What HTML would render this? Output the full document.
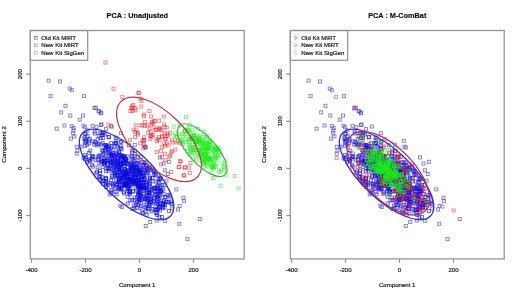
<!DOCTYPE html><html><head><meta charset="utf-8"><style>html,body{margin:0;padding:0;background:#fff;overflow:hidden}svg{display:block;filter:blur(0.3px)}</style></head><body><svg xmlns="http://www.w3.org/2000/svg" width="520" height="297" viewBox="0 0 520 297"><style>
.ax{stroke:#939393;stroke-width:1.25;fill:none}
text{font-family:"Liberation Sans",sans-serif;fill:#1a1a1a;stroke:#1a1a1a;stroke-width:0.2}
.tk{font-size:6.1px}
.lb{font-size:6.1px}
.lg{font-size:6.1px}
.tt{font-size:7.3px;font-weight:bold;fill:#111}
.bo rect{fill:none;stroke:rgba(40,40,170,0.55);stroke-width:1.0}
.b rect{fill:none;stroke:rgba(10,10,220,0.58);stroke-width:1.0}
.r rect{fill:none;stroke:rgba(225,10,25,0.48);stroke-width:1.0}
.g rect{fill:none;stroke:rgba(30,235,30,0.5);stroke-width:1.0}
.g2 rect{fill:none;stroke:rgba(30,235,30,0.6);stroke-width:1.0}
</style><rect width="520" height="297" fill="#fff"/><g class="bo"><rect x="47.1" y="79.1" width="3.0" height="3.0"/><rect x="58.5" y="80.0" width="3.0" height="3.0"/><rect x="68.3" y="87.0" width="3.0" height="3.0"/><rect x="70.3" y="88.7" width="3.0" height="3.0"/><rect x="49.1" y="94.6" width="3.0" height="3.0"/><rect x="82.5" y="94.6" width="3.0" height="3.0"/><rect x="63.9" y="104.3" width="3.0" height="3.0"/><rect x="59.7" y="110.9" width="3.0" height="3.0"/><rect x="68.8" y="114.1" width="3.0" height="3.0"/><rect x="81.5" y="114.1" width="3.0" height="3.0"/><rect x="78.2" y="118.2" width="3.0" height="3.0"/><rect x="93.0" y="106.4" width="3.0" height="3.0"/><rect x="97.1" y="109.9" width="3.0" height="3.0"/><rect x="99.4" y="111.8" width="3.0" height="3.0"/><rect x="63.0" y="124.0" width="3.0" height="3.0"/><rect x="55.1" y="127.2" width="3.0" height="3.0"/><rect x="70.3" y="124.6" width="3.0" height="3.0"/><rect x="72.1" y="126.5" width="3.0" height="3.0"/><rect x="71.4" y="131.8" width="3.0" height="3.0"/><rect x="72.9" y="134.9" width="3.0" height="3.0"/><rect x="69.4" y="137.1" width="3.0" height="3.0"/><rect x="82.0" y="124.3" width="3.0" height="3.0"/><rect x="83.5" y="125.8" width="3.0" height="3.0"/><rect x="91.1" y="124.3" width="3.0" height="3.0"/><rect x="94.9" y="125.5" width="3.0" height="3.0"/><rect x="99.4" y="123.5" width="3.0" height="3.0"/><rect x="99.7" y="111.2" width="3.0" height="3.0"/><rect x="100.0" y="122.9" width="3.0" height="3.0"/><rect x="104.5" y="127.4" width="3.0" height="3.0"/><rect x="75.2" y="145.3" width="3.0" height="3.0"/><rect x="75.9" y="149.1" width="3.0" height="3.0"/><rect x="75.2" y="152.1" width="3.0" height="3.0"/><rect x="108.2" y="192.9" width="3.0" height="3.0"/><rect x="118.8" y="204.3" width="3.0" height="3.0"/><rect x="120.3" y="205.5" width="3.0" height="3.0"/><rect x="144.3" y="224.5" width="3.0" height="3.0"/><rect x="148.7" y="220.5" width="3.0" height="3.0"/><rect x="155.3" y="219.0" width="3.0" height="3.0"/><rect x="163.6" y="219.4" width="3.0" height="3.0"/><rect x="177.8" y="222.3" width="3.0" height="3.0"/><rect x="198.2" y="217.5" width="3.0" height="3.0"/><rect x="186.0" y="237.6" width="3.0" height="3.0"/><rect x="174.8" y="187.9" width="3.0" height="3.0"/><rect x="181.9" y="196.2" width="3.0" height="3.0"/><rect x="182.4" y="199.7" width="3.0" height="3.0"/><rect x="178.1" y="204.5" width="3.0" height="3.0"/><rect x="176.5" y="208.0" width="3.0" height="3.0"/><rect x="133.3" y="143.3" width="3.0" height="3.0"/><rect x="85.9" y="128.9" width="3.0" height="3.0"/><rect x="72.0" y="129.0" width="3.0" height="3.0"/><rect x="94.3" y="106.2" width="3.0" height="3.0"/><rect x="97.7" y="109.6" width="3.0" height="3.0"/><rect x="110.2" y="125.0" width="3.0" height="3.0"/><rect x="119.4" y="131.7" width="3.0" height="3.0"/><rect x="142.2" y="139.3" width="3.0" height="3.0"/><rect x="143.0" y="145.2" width="3.0" height="3.0"/><rect x="158.5" y="155.9" width="3.0" height="3.0"/><rect x="162.0" y="162.0" width="3.0" height="3.0"/><rect x="167.4" y="160.3" width="3.0" height="3.0"/><rect x="163.4" y="168.8" width="3.0" height="3.0"/><rect x="166.2" y="172.5" width="3.0" height="3.0"/><rect x="165.0" y="179.2" width="3.0" height="3.0"/><rect x="144.3" y="146.0" width="3.0" height="3.0"/></g><g class="b"><rect x="126.4" y="178.7" width="3.0" height="3.0"/><rect x="139.6" y="174.6" width="3.0" height="3.0"/><rect x="143.5" y="176.9" width="3.0" height="3.0"/><rect x="118.2" y="185.3" width="3.0" height="3.0"/><rect x="141.6" y="180.3" width="3.0" height="3.0"/><rect x="117.2" y="170.8" width="3.0" height="3.0"/><rect x="133.0" y="167.9" width="3.0" height="3.0"/><rect x="124.2" y="182.1" width="3.0" height="3.0"/><rect x="155.8" y="195.9" width="3.0" height="3.0"/><rect x="163.2" y="206.0" width="3.0" height="3.0"/><rect x="149.4" y="200.0" width="3.0" height="3.0"/><rect x="127.0" y="172.5" width="3.0" height="3.0"/><rect x="128.6" y="178.2" width="3.0" height="3.0"/><rect x="159.3" y="198.9" width="3.0" height="3.0"/><rect x="151.7" y="187.1" width="3.0" height="3.0"/><rect x="115.0" y="152.6" width="3.0" height="3.0"/><rect x="123.0" y="183.5" width="3.0" height="3.0"/><rect x="139.8" y="185.6" width="3.0" height="3.0"/><rect x="126.1" y="175.1" width="3.0" height="3.0"/><rect x="150.0" y="197.8" width="3.0" height="3.0"/><rect x="114.8" y="142.1" width="3.0" height="3.0"/><rect x="112.2" y="162.8" width="3.0" height="3.0"/><rect x="126.2" y="202.0" width="3.0" height="3.0"/><rect x="123.1" y="154.8" width="3.0" height="3.0"/><rect x="123.2" y="179.5" width="3.0" height="3.0"/><rect x="127.2" y="184.7" width="3.0" height="3.0"/><rect x="125.1" y="182.5" width="3.0" height="3.0"/><rect x="107.3" y="147.2" width="3.0" height="3.0"/><rect x="128.0" y="169.7" width="3.0" height="3.0"/><rect x="134.4" y="165.6" width="3.0" height="3.0"/><rect x="140.3" y="184.9" width="3.0" height="3.0"/><rect x="104.4" y="169.7" width="3.0" height="3.0"/><rect x="157.8" y="193.1" width="3.0" height="3.0"/><rect x="130.6" y="150.9" width="3.0" height="3.0"/><rect x="137.5" y="183.6" width="3.0" height="3.0"/><rect x="101.2" y="160.3" width="3.0" height="3.0"/><rect x="136.9" y="179.3" width="3.0" height="3.0"/><rect x="122.5" y="191.9" width="3.0" height="3.0"/><rect x="138.3" y="181.5" width="3.0" height="3.0"/><rect x="123.0" y="169.6" width="3.0" height="3.0"/><rect x="139.7" y="171.7" width="3.0" height="3.0"/><rect x="131.8" y="173.4" width="3.0" height="3.0"/><rect x="103.0" y="161.5" width="3.0" height="3.0"/><rect x="124.3" y="181.8" width="3.0" height="3.0"/><rect x="127.3" y="190.0" width="3.0" height="3.0"/><rect x="124.6" y="180.9" width="3.0" height="3.0"/><rect x="149.3" y="200.9" width="3.0" height="3.0"/><rect x="140.2" y="175.1" width="3.0" height="3.0"/><rect x="110.0" y="190.2" width="3.0" height="3.0"/><rect x="147.8" y="186.0" width="3.0" height="3.0"/><rect x="121.4" y="176.6" width="3.0" height="3.0"/><rect x="133.1" y="178.0" width="3.0" height="3.0"/><rect x="112.3" y="168.4" width="3.0" height="3.0"/><rect x="147.6" y="193.4" width="3.0" height="3.0"/><rect x="135.1" y="168.2" width="3.0" height="3.0"/><rect x="129.8" y="165.8" width="3.0" height="3.0"/><rect x="109.7" y="161.4" width="3.0" height="3.0"/><rect x="131.0" y="170.7" width="3.0" height="3.0"/><rect x="144.4" y="163.9" width="3.0" height="3.0"/><rect x="146.3" y="198.3" width="3.0" height="3.0"/><rect x="154.7" y="211.6" width="3.0" height="3.0"/><rect x="138.3" y="196.5" width="3.0" height="3.0"/><rect x="136.8" y="163.0" width="3.0" height="3.0"/><rect x="96.1" y="165.9" width="3.0" height="3.0"/><rect x="131.6" y="175.6" width="3.0" height="3.0"/><rect x="138.1" y="172.1" width="3.0" height="3.0"/><rect x="112.5" y="153.9" width="3.0" height="3.0"/><rect x="134.9" y="171.6" width="3.0" height="3.0"/><rect x="148.6" y="177.7" width="3.0" height="3.0"/><rect x="107.0" y="154.1" width="3.0" height="3.0"/><rect x="111.1" y="160.2" width="3.0" height="3.0"/><rect x="143.2" y="185.9" width="3.0" height="3.0"/><rect x="138.5" y="186.0" width="3.0" height="3.0"/><rect x="137.3" y="180.7" width="3.0" height="3.0"/><rect x="158.8" y="193.9" width="3.0" height="3.0"/><rect x="103.4" y="143.6" width="3.0" height="3.0"/><rect x="145.1" y="196.8" width="3.0" height="3.0"/><rect x="113.3" y="142.0" width="3.0" height="3.0"/><rect x="136.6" y="175.4" width="3.0" height="3.0"/><rect x="155.1" y="211.7" width="3.0" height="3.0"/><rect x="128.4" y="177.4" width="3.0" height="3.0"/><rect x="138.9" y="192.6" width="3.0" height="3.0"/><rect x="139.2" y="184.6" width="3.0" height="3.0"/><rect x="156.8" y="186.4" width="3.0" height="3.0"/><rect x="108.0" y="150.2" width="3.0" height="3.0"/><rect x="123.5" y="171.3" width="3.0" height="3.0"/><rect x="139.9" y="180.2" width="3.0" height="3.0"/><rect x="119.3" y="163.6" width="3.0" height="3.0"/><rect x="131.1" y="179.2" width="3.0" height="3.0"/><rect x="102.7" y="161.6" width="3.0" height="3.0"/><rect x="125.5" y="165.9" width="3.0" height="3.0"/><rect x="146.8" y="206.9" width="3.0" height="3.0"/><rect x="112.1" y="159.1" width="3.0" height="3.0"/><rect x="113.4" y="173.0" width="3.0" height="3.0"/><rect x="107.2" y="169.2" width="3.0" height="3.0"/><rect x="126.2" y="195.3" width="3.0" height="3.0"/><rect x="144.9" y="203.9" width="3.0" height="3.0"/><rect x="113.6" y="174.5" width="3.0" height="3.0"/><rect x="84.5" y="155.6" width="3.0" height="3.0"/><rect x="160.7" y="183.5" width="3.0" height="3.0"/><rect x="120.8" y="155.2" width="3.0" height="3.0"/><rect x="122.9" y="182.9" width="3.0" height="3.0"/><rect x="123.5" y="172.4" width="3.0" height="3.0"/><rect x="132.7" y="180.9" width="3.0" height="3.0"/><rect x="154.4" y="180.0" width="3.0" height="3.0"/><rect x="138.2" y="172.2" width="3.0" height="3.0"/><rect x="154.5" y="208.0" width="3.0" height="3.0"/><rect x="126.8" y="180.5" width="3.0" height="3.0"/><rect x="150.8" y="188.4" width="3.0" height="3.0"/><rect x="152.6" y="186.9" width="3.0" height="3.0"/><rect x="130.4" y="167.5" width="3.0" height="3.0"/><rect x="119.8" y="173.0" width="3.0" height="3.0"/><rect x="101.7" y="132.0" width="3.0" height="3.0"/><rect x="113.2" y="160.8" width="3.0" height="3.0"/><rect x="138.8" y="166.1" width="3.0" height="3.0"/><rect x="131.6" y="189.7" width="3.0" height="3.0"/><rect x="129.4" y="178.5" width="3.0" height="3.0"/><rect x="125.8" y="189.9" width="3.0" height="3.0"/><rect x="144.1" y="160.7" width="3.0" height="3.0"/><rect x="154.5" y="173.8" width="3.0" height="3.0"/><rect x="104.2" y="154.3" width="3.0" height="3.0"/><rect x="156.1" y="189.5" width="3.0" height="3.0"/><rect x="107.1" y="158.5" width="3.0" height="3.0"/><rect x="128.0" y="175.3" width="3.0" height="3.0"/><rect x="122.2" y="181.8" width="3.0" height="3.0"/><rect x="117.1" y="168.7" width="3.0" height="3.0"/><rect x="143.7" y="197.9" width="3.0" height="3.0"/><rect x="133.2" y="196.1" width="3.0" height="3.0"/><rect x="152.3" y="197.0" width="3.0" height="3.0"/><rect x="137.8" y="166.9" width="3.0" height="3.0"/><rect x="87.5" y="158.0" width="3.0" height="3.0"/><rect x="131.5" y="190.0" width="3.0" height="3.0"/><rect x="124.4" y="171.8" width="3.0" height="3.0"/><rect x="134.4" y="167.2" width="3.0" height="3.0"/><rect x="134.6" y="179.8" width="3.0" height="3.0"/><rect x="104.8" y="158.8" width="3.0" height="3.0"/><rect x="118.0" y="187.8" width="3.0" height="3.0"/><rect x="141.2" y="183.1" width="3.0" height="3.0"/><rect x="104.8" y="166.9" width="3.0" height="3.0"/><rect x="115.7" y="166.0" width="3.0" height="3.0"/><rect x="126.4" y="171.0" width="3.0" height="3.0"/><rect x="131.8" y="180.3" width="3.0" height="3.0"/><rect x="97.5" y="155.0" width="3.0" height="3.0"/><rect x="133.6" y="173.2" width="3.0" height="3.0"/><rect x="128.8" y="199.0" width="3.0" height="3.0"/><rect x="118.9" y="168.4" width="3.0" height="3.0"/><rect x="142.4" y="174.2" width="3.0" height="3.0"/><rect x="123.7" y="184.0" width="3.0" height="3.0"/><rect x="137.1" y="181.5" width="3.0" height="3.0"/><rect x="131.7" y="181.0" width="3.0" height="3.0"/><rect x="158.8" y="201.8" width="3.0" height="3.0"/><rect x="137.7" y="197.5" width="3.0" height="3.0"/><rect x="138.4" y="193.8" width="3.0" height="3.0"/><rect x="103.3" y="148.4" width="3.0" height="3.0"/><rect x="138.0" y="188.1" width="3.0" height="3.0"/><rect x="135.4" y="169.3" width="3.0" height="3.0"/><rect x="106.3" y="183.5" width="3.0" height="3.0"/><rect x="134.5" y="179.4" width="3.0" height="3.0"/><rect x="145.1" y="196.5" width="3.0" height="3.0"/><rect x="158.6" y="189.5" width="3.0" height="3.0"/><rect x="111.8" y="148.2" width="3.0" height="3.0"/><rect x="98.5" y="169.4" width="3.0" height="3.0"/><rect x="120.0" y="176.2" width="3.0" height="3.0"/><rect x="94.8" y="142.0" width="3.0" height="3.0"/><rect x="148.5" y="176.6" width="3.0" height="3.0"/><rect x="117.5" y="186.6" width="3.0" height="3.0"/><rect x="117.8" y="153.3" width="3.0" height="3.0"/><rect x="147.4" y="187.3" width="3.0" height="3.0"/><rect x="124.7" y="170.0" width="3.0" height="3.0"/><rect x="122.6" y="175.0" width="3.0" height="3.0"/><rect x="134.1" y="181.3" width="3.0" height="3.0"/><rect x="125.4" y="172.4" width="3.0" height="3.0"/><rect x="106.5" y="181.7" width="3.0" height="3.0"/><rect x="117.5" y="166.9" width="3.0" height="3.0"/><rect x="156.1" y="207.9" width="3.0" height="3.0"/><rect x="108.3" y="167.2" width="3.0" height="3.0"/><rect x="143.0" y="166.5" width="3.0" height="3.0"/><rect x="139.9" y="177.8" width="3.0" height="3.0"/><rect x="101.5" y="182.3" width="3.0" height="3.0"/><rect x="130.0" y="167.1" width="3.0" height="3.0"/><rect x="149.9" y="195.9" width="3.0" height="3.0"/><rect x="139.6" y="171.1" width="3.0" height="3.0"/><rect x="134.4" y="166.1" width="3.0" height="3.0"/><rect x="101.2" y="165.5" width="3.0" height="3.0"/><rect x="112.3" y="154.7" width="3.0" height="3.0"/><rect x="120.2" y="166.8" width="3.0" height="3.0"/><rect x="137.8" y="180.6" width="3.0" height="3.0"/><rect x="161.8" y="187.9" width="3.0" height="3.0"/><rect x="115.5" y="161.6" width="3.0" height="3.0"/><rect x="117.7" y="180.2" width="3.0" height="3.0"/><rect x="165.1" y="200.1" width="3.0" height="3.0"/><rect x="122.6" y="176.4" width="3.0" height="3.0"/><rect x="128.2" y="190.4" width="3.0" height="3.0"/><rect x="133.1" y="164.0" width="3.0" height="3.0"/><rect x="139.7" y="198.2" width="3.0" height="3.0"/><rect x="133.3" y="154.7" width="3.0" height="3.0"/><rect x="100.2" y="158.1" width="3.0" height="3.0"/><rect x="107.0" y="150.9" width="3.0" height="3.0"/><rect x="141.6" y="173.3" width="3.0" height="3.0"/><rect x="84.1" y="132.2" width="3.0" height="3.0"/><rect x="104.4" y="144.9" width="3.0" height="3.0"/><rect x="137.1" y="161.5" width="3.0" height="3.0"/><rect x="128.6" y="190.2" width="3.0" height="3.0"/><rect x="143.6" y="205.6" width="3.0" height="3.0"/><rect x="129.6" y="163.1" width="3.0" height="3.0"/><rect x="140.7" y="181.6" width="3.0" height="3.0"/><rect x="133.1" y="173.4" width="3.0" height="3.0"/><rect x="145.5" y="188.3" width="3.0" height="3.0"/><rect x="155.9" y="184.4" width="3.0" height="3.0"/><rect x="123.3" y="183.8" width="3.0" height="3.0"/><rect x="156.0" y="202.4" width="3.0" height="3.0"/><rect x="146.9" y="180.3" width="3.0" height="3.0"/><rect x="116.7" y="158.2" width="3.0" height="3.0"/><rect x="107.0" y="145.4" width="3.0" height="3.0"/><rect x="123.1" y="168.3" width="3.0" height="3.0"/><rect x="138.0" y="193.6" width="3.0" height="3.0"/><rect x="127.1" y="183.5" width="3.0" height="3.0"/><rect x="136.8" y="169.3" width="3.0" height="3.0"/><rect x="130.0" y="178.6" width="3.0" height="3.0"/><rect x="117.5" y="153.6" width="3.0" height="3.0"/><rect x="141.1" y="164.5" width="3.0" height="3.0"/><rect x="124.3" y="157.5" width="3.0" height="3.0"/><rect x="161.4" y="206.7" width="3.0" height="3.0"/><rect x="119.2" y="146.6" width="3.0" height="3.0"/><rect x="153.2" y="189.5" width="3.0" height="3.0"/><rect x="146.2" y="198.4" width="3.0" height="3.0"/><rect x="148.0" y="184.9" width="3.0" height="3.0"/><rect x="123.2" y="161.1" width="3.0" height="3.0"/><rect x="127.4" y="162.1" width="3.0" height="3.0"/><rect x="163.0" y="183.6" width="3.0" height="3.0"/><rect x="97.3" y="142.6" width="3.0" height="3.0"/><rect x="124.3" y="172.1" width="3.0" height="3.0"/><rect x="125.3" y="174.2" width="3.0" height="3.0"/><rect x="101.4" y="136.6" width="3.0" height="3.0"/><rect x="163.5" y="195.5" width="3.0" height="3.0"/><rect x="147.3" y="204.6" width="3.0" height="3.0"/><rect x="120.4" y="155.6" width="3.0" height="3.0"/><rect x="155.9" y="197.5" width="3.0" height="3.0"/><rect x="126.5" y="159.7" width="3.0" height="3.0"/><rect x="117.2" y="151.0" width="3.0" height="3.0"/><rect x="144.0" y="170.3" width="3.0" height="3.0"/><rect x="136.5" y="203.2" width="3.0" height="3.0"/><rect x="116.5" y="159.7" width="3.0" height="3.0"/><rect x="157.2" y="177.4" width="3.0" height="3.0"/><rect x="135.8" y="182.9" width="3.0" height="3.0"/><rect x="130.7" y="177.2" width="3.0" height="3.0"/><rect x="149.1" y="195.0" width="3.0" height="3.0"/><rect x="120.3" y="186.6" width="3.0" height="3.0"/><rect x="95.9" y="143.9" width="3.0" height="3.0"/><rect x="142.7" y="189.0" width="3.0" height="3.0"/><rect x="144.5" y="181.4" width="3.0" height="3.0"/><rect x="136.8" y="169.8" width="3.0" height="3.0"/><rect x="118.3" y="165.5" width="3.0" height="3.0"/><rect x="125.3" y="170.9" width="3.0" height="3.0"/><rect x="148.1" y="181.9" width="3.0" height="3.0"/><rect x="136.6" y="176.5" width="3.0" height="3.0"/><rect x="124.3" y="172.5" width="3.0" height="3.0"/><rect x="152.5" y="200.1" width="3.0" height="3.0"/><rect x="156.9" y="194.7" width="3.0" height="3.0"/><rect x="148.1" y="166.3" width="3.0" height="3.0"/><rect x="125.8" y="176.1" width="3.0" height="3.0"/><rect x="134.3" y="176.1" width="3.0" height="3.0"/><rect x="142.0" y="175.7" width="3.0" height="3.0"/><rect x="137.2" y="177.0" width="3.0" height="3.0"/><rect x="135.2" y="166.1" width="3.0" height="3.0"/><rect x="123.3" y="173.6" width="3.0" height="3.0"/><rect x="134.1" y="175.7" width="3.0" height="3.0"/><rect x="130.1" y="154.9" width="3.0" height="3.0"/><rect x="118.5" y="170.5" width="3.0" height="3.0"/><rect x="120.8" y="174.5" width="3.0" height="3.0"/><rect x="142.0" y="185.7" width="3.0" height="3.0"/><rect x="114.1" y="168.9" width="3.0" height="3.0"/><rect x="135.2" y="161.9" width="3.0" height="3.0"/><rect x="110.8" y="176.0" width="3.0" height="3.0"/><rect x="108.7" y="161.1" width="3.0" height="3.0"/><rect x="150.0" y="209.8" width="3.0" height="3.0"/><rect x="132.0" y="159.2" width="3.0" height="3.0"/><rect x="156.2" y="193.8" width="3.0" height="3.0"/><rect x="108.2" y="152.2" width="3.0" height="3.0"/><rect x="111.6" y="184.7" width="3.0" height="3.0"/><rect x="100.6" y="148.7" width="3.0" height="3.0"/><rect x="141.5" y="171.4" width="3.0" height="3.0"/><rect x="138.0" y="191.4" width="3.0" height="3.0"/><rect x="120.6" y="170.6" width="3.0" height="3.0"/><rect x="116.0" y="154.0" width="3.0" height="3.0"/><rect x="124.5" y="182.8" width="3.0" height="3.0"/><rect x="110.6" y="174.5" width="3.0" height="3.0"/><rect x="123.5" y="167.5" width="3.0" height="3.0"/><rect x="128.9" y="163.0" width="3.0" height="3.0"/><rect x="154.0" y="208.5" width="3.0" height="3.0"/><rect x="127.4" y="179.7" width="3.0" height="3.0"/><rect x="161.5" y="202.6" width="3.0" height="3.0"/><rect x="145.2" y="180.3" width="3.0" height="3.0"/><rect x="109.7" y="164.1" width="3.0" height="3.0"/><rect x="139.4" y="186.6" width="3.0" height="3.0"/><rect x="127.0" y="182.6" width="3.0" height="3.0"/><rect x="104.5" y="177.4" width="3.0" height="3.0"/><rect x="105.9" y="159.6" width="3.0" height="3.0"/><rect x="117.6" y="177.2" width="3.0" height="3.0"/><rect x="138.5" y="185.3" width="3.0" height="3.0"/><rect x="98.7" y="175.5" width="3.0" height="3.0"/><rect x="131.7" y="178.8" width="3.0" height="3.0"/><rect x="115.7" y="183.0" width="3.0" height="3.0"/><rect x="118.9" y="187.8" width="3.0" height="3.0"/><rect x="147.2" y="191.5" width="3.0" height="3.0"/><rect x="126.6" y="185.6" width="3.0" height="3.0"/><rect x="120.1" y="147.7" width="3.0" height="3.0"/><rect x="142.6" y="194.5" width="3.0" height="3.0"/><rect x="150.9" y="176.5" width="3.0" height="3.0"/><rect x="106.4" y="162.5" width="3.0" height="3.0"/><rect x="122.9" y="164.7" width="3.0" height="3.0"/><rect x="111.7" y="157.3" width="3.0" height="3.0"/><rect x="115.1" y="151.2" width="3.0" height="3.0"/><rect x="142.4" y="192.5" width="3.0" height="3.0"/><rect x="136.5" y="193.3" width="3.0" height="3.0"/><rect x="130.2" y="165.3" width="3.0" height="3.0"/><rect x="129.6" y="172.7" width="3.0" height="3.0"/><rect x="116.4" y="156.4" width="3.0" height="3.0"/><rect x="128.0" y="192.8" width="3.0" height="3.0"/><rect x="125.9" y="177.0" width="3.0" height="3.0"/><rect x="101.8" y="149.6" width="3.0" height="3.0"/><rect x="145.2" y="193.9" width="3.0" height="3.0"/><rect x="126.1" y="162.8" width="3.0" height="3.0"/><rect x="168.0" y="193.9" width="3.0" height="3.0"/><rect x="121.8" y="159.7" width="3.0" height="3.0"/><rect x="129.6" y="180.5" width="3.0" height="3.0"/><rect x="119.7" y="163.6" width="3.0" height="3.0"/><rect x="125.7" y="161.5" width="3.0" height="3.0"/><rect x="142.1" y="175.1" width="3.0" height="3.0"/><rect x="108.3" y="157.1" width="3.0" height="3.0"/><rect x="144.2" y="186.4" width="3.0" height="3.0"/><rect x="127.6" y="185.4" width="3.0" height="3.0"/><rect x="164.3" y="195.9" width="3.0" height="3.0"/><rect x="112.1" y="159.5" width="3.0" height="3.0"/><rect x="101.5" y="179.5" width="3.0" height="3.0"/><rect x="135.2" y="177.8" width="3.0" height="3.0"/><rect x="103.3" y="159.6" width="3.0" height="3.0"/><rect x="119.9" y="161.4" width="3.0" height="3.0"/><rect x="82.1" y="156.4" width="3.0" height="3.0"/><rect x="113.6" y="171.9" width="3.0" height="3.0"/><rect x="160.5" y="215.5" width="3.0" height="3.0"/><rect x="129.0" y="183.0" width="3.0" height="3.0"/><rect x="118.6" y="162.4" width="3.0" height="3.0"/><rect x="156.3" y="207.8" width="3.0" height="3.0"/><rect x="144.1" y="186.6" width="3.0" height="3.0"/><rect x="141.7" y="184.2" width="3.0" height="3.0"/><rect x="116.3" y="180.4" width="3.0" height="3.0"/><rect x="92.8" y="143.1" width="3.0" height="3.0"/><rect x="167.1" y="200.5" width="3.0" height="3.0"/><rect x="153.7" y="193.3" width="3.0" height="3.0"/><rect x="140.9" y="160.5" width="3.0" height="3.0"/><rect x="132.8" y="159.6" width="3.0" height="3.0"/><rect x="123.9" y="170.7" width="3.0" height="3.0"/><rect x="134.6" y="181.3" width="3.0" height="3.0"/><rect x="142.4" y="181.2" width="3.0" height="3.0"/><rect x="158.9" y="204.8" width="3.0" height="3.0"/><rect x="99.9" y="159.3" width="3.0" height="3.0"/><rect x="130.7" y="198.5" width="3.0" height="3.0"/><rect x="130.0" y="176.9" width="3.0" height="3.0"/><rect x="133.1" y="182.1" width="3.0" height="3.0"/><rect x="136.9" y="183.3" width="3.0" height="3.0"/><rect x="150.6" y="192.1" width="3.0" height="3.0"/><rect x="88.0" y="137.4" width="3.0" height="3.0"/><rect x="129.1" y="184.4" width="3.0" height="3.0"/><rect x="123.5" y="156.3" width="3.0" height="3.0"/><rect x="125.9" y="186.7" width="3.0" height="3.0"/><rect x="122.8" y="172.8" width="3.0" height="3.0"/><rect x="105.3" y="145.2" width="3.0" height="3.0"/><rect x="130.6" y="171.3" width="3.0" height="3.0"/><rect x="115.2" y="137.0" width="3.0" height="3.0"/><rect x="144.2" y="184.0" width="3.0" height="3.0"/><rect x="112.4" y="169.7" width="3.0" height="3.0"/><rect x="114.3" y="141.3" width="3.0" height="3.0"/><rect x="117.0" y="161.6" width="3.0" height="3.0"/><rect x="136.7" y="191.7" width="3.0" height="3.0"/><rect x="159.4" y="176.9" width="3.0" height="3.0"/><rect x="145.5" y="171.8" width="3.0" height="3.0"/><rect x="137.6" y="190.2" width="3.0" height="3.0"/><rect x="111.9" y="182.8" width="3.0" height="3.0"/><rect x="142.7" y="168.6" width="3.0" height="3.0"/><rect x="148.4" y="182.6" width="3.0" height="3.0"/><rect x="147.4" y="200.3" width="3.0" height="3.0"/><rect x="153.8" y="172.9" width="3.0" height="3.0"/><rect x="116.7" y="163.9" width="3.0" height="3.0"/><rect x="121.4" y="171.2" width="3.0" height="3.0"/><rect x="116.9" y="166.1" width="3.0" height="3.0"/><rect x="103.4" y="158.7" width="3.0" height="3.0"/><rect x="118.6" y="172.9" width="3.0" height="3.0"/><rect x="155.8" y="200.0" width="3.0" height="3.0"/><rect x="131.7" y="182.4" width="3.0" height="3.0"/><rect x="141.6" y="211.5" width="3.0" height="3.0"/><rect x="135.0" y="165.9" width="3.0" height="3.0"/><rect x="161.2" y="203.4" width="3.0" height="3.0"/><rect x="135.1" y="172.8" width="3.0" height="3.0"/><rect x="131.3" y="170.2" width="3.0" height="3.0"/><rect x="123.6" y="161.8" width="3.0" height="3.0"/><rect x="122.4" y="184.3" width="3.0" height="3.0"/><rect x="142.6" y="178.2" width="3.0" height="3.0"/><rect x="122.3" y="154.8" width="3.0" height="3.0"/><rect x="137.4" y="184.5" width="3.0" height="3.0"/><rect x="152.7" y="186.1" width="3.0" height="3.0"/><rect x="151.6" y="169.2" width="3.0" height="3.0"/><rect x="157.3" y="198.0" width="3.0" height="3.0"/><rect x="127.1" y="172.6" width="3.0" height="3.0"/><rect x="163.6" y="203.1" width="3.0" height="3.0"/><rect x="110.3" y="167.0" width="3.0" height="3.0"/><rect x="136.0" y="171.3" width="3.0" height="3.0"/><rect x="121.2" y="161.6" width="3.0" height="3.0"/><rect x="155.1" y="190.4" width="3.0" height="3.0"/><rect x="101.0" y="153.6" width="3.0" height="3.0"/><rect x="111.0" y="153.4" width="3.0" height="3.0"/><rect x="115.8" y="156.2" width="3.0" height="3.0"/><rect x="118.2" y="159.8" width="3.0" height="3.0"/><rect x="127.8" y="180.3" width="3.0" height="3.0"/><rect x="110.1" y="152.4" width="3.0" height="3.0"/><rect x="161.7" y="203.9" width="3.0" height="3.0"/><rect x="127.5" y="177.0" width="3.0" height="3.0"/><rect x="102.7" y="156.5" width="3.0" height="3.0"/><rect x="121.5" y="154.7" width="3.0" height="3.0"/><rect x="98.4" y="177.2" width="3.0" height="3.0"/><rect x="112.9" y="165.3" width="3.0" height="3.0"/><rect x="113.4" y="187.0" width="3.0" height="3.0"/><rect x="145.9" y="191.4" width="3.0" height="3.0"/><rect x="115.1" y="174.2" width="3.0" height="3.0"/><rect x="134.2" y="186.2" width="3.0" height="3.0"/><rect x="132.7" y="182.1" width="3.0" height="3.0"/><rect x="138.8" y="170.4" width="3.0" height="3.0"/><rect x="122.8" y="183.3" width="3.0" height="3.0"/><rect x="147.5" y="191.1" width="3.0" height="3.0"/><rect x="123.9" y="157.4" width="3.0" height="3.0"/><rect x="132.5" y="165.6" width="3.0" height="3.0"/><rect x="93.7" y="140.6" width="3.0" height="3.0"/><rect x="114.4" y="164.8" width="3.0" height="3.0"/><rect x="116.0" y="186.1" width="3.0" height="3.0"/><rect x="144.9" y="206.6" width="3.0" height="3.0"/><rect x="119.7" y="187.7" width="3.0" height="3.0"/><rect x="129.8" y="168.4" width="3.0" height="3.0"/><rect x="118.4" y="177.2" width="3.0" height="3.0"/><rect x="124.5" y="179.5" width="3.0" height="3.0"/><rect x="152.6" y="169.7" width="3.0" height="3.0"/><rect x="107.5" y="166.4" width="3.0" height="3.0"/><rect x="125.4" y="174.5" width="3.0" height="3.0"/><rect x="113.0" y="155.6" width="3.0" height="3.0"/><rect x="142.5" y="187.1" width="3.0" height="3.0"/><rect x="116.7" y="146.2" width="3.0" height="3.0"/><rect x="111.5" y="151.6" width="3.0" height="3.0"/><rect x="139.6" y="204.4" width="3.0" height="3.0"/><rect x="139.2" y="168.6" width="3.0" height="3.0"/><rect x="128.5" y="189.4" width="3.0" height="3.0"/><rect x="110.0" y="153.2" width="3.0" height="3.0"/><rect x="116.3" y="174.9" width="3.0" height="3.0"/><rect x="137.6" y="190.0" width="3.0" height="3.0"/><rect x="132.8" y="173.1" width="3.0" height="3.0"/><rect x="136.9" y="185.3" width="3.0" height="3.0"/><rect x="131.9" y="171.9" width="3.0" height="3.0"/><rect x="128.5" y="191.9" width="3.0" height="3.0"/><rect x="118.5" y="179.4" width="3.0" height="3.0"/><rect x="102.8" y="160.5" width="3.0" height="3.0"/><rect x="93.4" y="132.0" width="3.0" height="3.0"/><rect x="116.2" y="160.5" width="3.0" height="3.0"/><rect x="83.4" y="157.5" width="3.0" height="3.0"/><rect x="170.3" y="202.5" width="3.0" height="3.0"/><rect x="111.1" y="171.0" width="3.0" height="3.0"/><rect x="115.8" y="163.5" width="3.0" height="3.0"/><rect x="115.8" y="173.6" width="3.0" height="3.0"/><rect x="148.4" y="190.7" width="3.0" height="3.0"/><rect x="132.7" y="180.1" width="3.0" height="3.0"/><rect x="148.0" y="175.8" width="3.0" height="3.0"/><rect x="99.6" y="143.1" width="3.0" height="3.0"/><rect x="88.1" y="158.8" width="3.0" height="3.0"/><rect x="116.4" y="158.0" width="3.0" height="3.0"/><rect x="121.8" y="159.0" width="3.0" height="3.0"/><rect x="100.9" y="133.5" width="3.0" height="3.0"/><rect x="105.0" y="143.6" width="3.0" height="3.0"/><rect x="141.7" y="188.7" width="3.0" height="3.0"/><rect x="136.8" y="159.7" width="3.0" height="3.0"/><rect x="114.7" y="164.6" width="3.0" height="3.0"/><rect x="140.9" y="178.4" width="3.0" height="3.0"/><rect x="148.5" y="200.3" width="3.0" height="3.0"/><rect x="135.3" y="206.4" width="3.0" height="3.0"/><rect x="167.5" y="209.5" width="3.0" height="3.0"/><rect x="109.6" y="141.6" width="3.0" height="3.0"/><rect x="130.6" y="166.1" width="3.0" height="3.0"/><rect x="157.3" y="187.6" width="3.0" height="3.0"/><rect x="97.6" y="175.3" width="3.0" height="3.0"/><rect x="136.0" y="189.4" width="3.0" height="3.0"/><rect x="100.0" y="131.5" width="3.0" height="3.0"/><rect x="147.2" y="202.5" width="3.0" height="3.0"/><rect x="155.8" y="213.5" width="3.0" height="3.0"/><rect x="108.5" y="159.8" width="3.0" height="3.0"/><rect x="114.2" y="136.3" width="3.0" height="3.0"/><rect x="145.4" y="183.1" width="3.0" height="3.0"/><rect x="144.7" y="196.3" width="3.0" height="3.0"/><rect x="98.7" y="131.9" width="3.0" height="3.0"/><rect x="117.8" y="150.2" width="3.0" height="3.0"/><rect x="124.3" y="159.6" width="3.0" height="3.0"/><rect x="154.7" y="193.3" width="3.0" height="3.0"/><rect x="139.0" y="206.1" width="3.0" height="3.0"/><rect x="133.1" y="206.7" width="3.0" height="3.0"/><rect x="98.7" y="171.5" width="3.0" height="3.0"/><rect x="140.3" y="210.2" width="3.0" height="3.0"/><rect x="96.3" y="158.0" width="3.0" height="3.0"/><rect x="91.8" y="155.1" width="3.0" height="3.0"/><rect x="119.0" y="167.5" width="3.0" height="3.0"/><rect x="123.1" y="172.1" width="3.0" height="3.0"/><rect x="110.1" y="161.7" width="3.0" height="3.0"/><rect x="131.1" y="155.1" width="3.0" height="3.0"/><rect x="93.1" y="130.1" width="3.0" height="3.0"/><rect x="148.1" y="203.1" width="3.0" height="3.0"/><rect x="99.5" y="136.5" width="3.0" height="3.0"/><rect x="85.6" y="143.2" width="3.0" height="3.0"/><rect x="120.3" y="157.7" width="3.0" height="3.0"/><rect x="135.9" y="155.4" width="3.0" height="3.0"/><rect x="115.2" y="192.9" width="3.0" height="3.0"/><rect x="99.6" y="160.2" width="3.0" height="3.0"/><rect x="83.2" y="137.5" width="3.0" height="3.0"/><rect x="100.7" y="175.7" width="3.0" height="3.0"/><rect x="83.0" y="136.3" width="3.0" height="3.0"/><rect x="132.4" y="204.0" width="3.0" height="3.0"/><rect x="155.2" y="185.8" width="3.0" height="3.0"/><rect x="115.3" y="145.0" width="3.0" height="3.0"/><rect x="138.2" y="170.8" width="3.0" height="3.0"/><rect x="156.8" y="180.6" width="3.0" height="3.0"/><rect x="102.1" y="152.1" width="3.0" height="3.0"/><rect x="133.2" y="198.7" width="3.0" height="3.0"/><rect x="127.3" y="143.7" width="3.0" height="3.0"/><rect x="135.6" y="178.7" width="3.0" height="3.0"/><rect x="94.7" y="171.6" width="3.0" height="3.0"/><rect x="110.3" y="144.7" width="3.0" height="3.0"/><rect x="91.8" y="139.8" width="3.0" height="3.0"/><rect x="168.7" y="195.1" width="3.0" height="3.0"/><rect x="85.7" y="160.7" width="3.0" height="3.0"/><rect x="119.1" y="154.3" width="3.0" height="3.0"/><rect x="137.8" y="168.0" width="3.0" height="3.0"/><rect x="123.7" y="159.1" width="3.0" height="3.0"/><rect x="118.1" y="183.4" width="3.0" height="3.0"/><rect x="106.4" y="167.3" width="3.0" height="3.0"/><rect x="130.8" y="149.0" width="3.0" height="3.0"/><rect x="121.5" y="171.3" width="3.0" height="3.0"/><rect x="130.9" y="157.8" width="3.0" height="3.0"/><rect x="104.6" y="177.0" width="3.0" height="3.0"/><rect x="131.3" y="161.7" width="3.0" height="3.0"/><rect x="104.6" y="184.1" width="3.0" height="3.0"/><rect x="157.5" y="189.8" width="3.0" height="3.0"/><rect x="87.7" y="139.1" width="3.0" height="3.0"/><rect x="97.8" y="161.4" width="3.0" height="3.0"/><rect x="109.6" y="178.7" width="3.0" height="3.0"/><rect x="83.6" y="132.4" width="3.0" height="3.0"/><rect x="104.2" y="149.7" width="3.0" height="3.0"/><rect x="145.7" y="164.7" width="3.0" height="3.0"/><rect x="125.3" y="176.0" width="3.0" height="3.0"/><rect x="138.8" y="173.2" width="3.0" height="3.0"/><rect x="170.3" y="207.0" width="3.0" height="3.0"/><rect x="121.5" y="176.9" width="3.0" height="3.0"/><rect x="120.0" y="180.0" width="3.0" height="3.0"/><rect x="100.6" y="180.1" width="3.0" height="3.0"/><rect x="119.3" y="140.4" width="3.0" height="3.0"/><rect x="84.2" y="139.7" width="3.0" height="3.0"/><rect x="140.5" y="196.1" width="3.0" height="3.0"/><rect x="138.2" y="198.5" width="3.0" height="3.0"/><rect x="156.7" y="203.3" width="3.0" height="3.0"/><rect x="148.1" y="165.8" width="3.0" height="3.0"/><rect x="137.9" y="178.5" width="3.0" height="3.0"/><rect x="96.0" y="138.1" width="3.0" height="3.0"/><rect x="142.7" y="161.5" width="3.0" height="3.0"/><rect x="84.6" y="138.9" width="3.0" height="3.0"/><rect x="123.0" y="174.8" width="3.0" height="3.0"/><rect x="151.2" y="168.0" width="3.0" height="3.0"/><rect x="104.7" y="185.5" width="3.0" height="3.0"/><rect x="114.2" y="190.3" width="3.0" height="3.0"/><rect x="114.9" y="170.2" width="3.0" height="3.0"/><rect x="142.3" y="200.4" width="3.0" height="3.0"/><rect x="125.5" y="181.8" width="3.0" height="3.0"/><rect x="139.1" y="194.3" width="3.0" height="3.0"/><rect x="116.4" y="173.3" width="3.0" height="3.0"/><rect x="150.9" y="179.9" width="3.0" height="3.0"/><rect x="126.3" y="155.0" width="3.0" height="3.0"/><rect x="110.3" y="157.1" width="3.0" height="3.0"/><rect x="90.9" y="154.5" width="3.0" height="3.0"/><rect x="79.1" y="145.2" width="3.0" height="3.0"/><rect x="160.0" y="189.0" width="3.0" height="3.0"/><rect x="111.5" y="163.9" width="3.0" height="3.0"/><rect x="109.9" y="188.6" width="3.0" height="3.0"/><rect x="162.1" y="199.3" width="3.0" height="3.0"/><rect x="107.3" y="135.8" width="3.0" height="3.0"/><rect x="137.5" y="197.5" width="3.0" height="3.0"/><rect x="158.1" y="205.3" width="3.0" height="3.0"/><rect x="95.5" y="170.2" width="3.0" height="3.0"/><rect x="145.2" y="213.3" width="3.0" height="3.0"/><rect x="83.4" y="153.5" width="3.0" height="3.0"/><rect x="114.9" y="183.0" width="3.0" height="3.0"/><rect x="152.6" y="199.2" width="3.0" height="3.0"/><rect x="126.9" y="187.6" width="3.0" height="3.0"/><rect x="94.1" y="158.7" width="3.0" height="3.0"/><rect x="129.9" y="167.2" width="3.0" height="3.0"/><rect x="88.5" y="159.4" width="3.0" height="3.0"/><rect x="158.5" y="176.3" width="3.0" height="3.0"/><rect x="135.3" y="200.6" width="3.0" height="3.0"/><rect x="153.1" y="170.8" width="3.0" height="3.0"/><rect x="136.6" y="184.4" width="3.0" height="3.0"/><rect x="126.1" y="168.6" width="3.0" height="3.0"/><rect x="164.8" y="200.7" width="3.0" height="3.0"/><rect x="119.4" y="144.6" width="3.0" height="3.0"/><rect x="138.6" y="187.5" width="3.0" height="3.0"/><rect x="120.0" y="153.6" width="3.0" height="3.0"/><rect x="146.0" y="170.0" width="3.0" height="3.0"/><rect x="138.1" y="169.6" width="3.0" height="3.0"/><rect x="104.6" y="146.1" width="3.0" height="3.0"/><rect x="88.8" y="149.2" width="3.0" height="3.0"/><rect x="109.8" y="191.8" width="3.0" height="3.0"/><rect x="103.5" y="132.9" width="3.0" height="3.0"/><rect x="131.9" y="169.4" width="3.0" height="3.0"/><rect x="114.2" y="160.3" width="3.0" height="3.0"/><rect x="147.0" y="207.4" width="3.0" height="3.0"/><rect x="96.7" y="155.0" width="3.0" height="3.0"/><rect x="169.5" y="200.0" width="3.0" height="3.0"/><rect x="110.7" y="182.1" width="3.0" height="3.0"/><rect x="121.1" y="179.1" width="3.0" height="3.0"/><rect x="122.2" y="190.4" width="3.0" height="3.0"/><rect x="114.6" y="178.7" width="3.0" height="3.0"/><rect x="101.9" y="131.1" width="3.0" height="3.0"/><rect x="126.4" y="169.4" width="3.0" height="3.0"/><rect x="144.2" y="210.0" width="3.0" height="3.0"/><rect x="90.7" y="155.5" width="3.0" height="3.0"/><rect x="97.3" y="134.5" width="3.0" height="3.0"/><rect x="109.9" y="146.3" width="3.0" height="3.0"/><rect x="158.8" y="185.2" width="3.0" height="3.0"/><rect x="87.4" y="151.4" width="3.0" height="3.0"/><rect x="91.3" y="165.1" width="3.0" height="3.0"/><rect x="152.8" y="186.7" width="3.0" height="3.0"/><rect x="166.2" y="193.3" width="3.0" height="3.0"/><rect x="137.8" y="201.7" width="3.0" height="3.0"/><rect x="152.7" y="173.2" width="3.0" height="3.0"/><rect x="130.9" y="207.4" width="3.0" height="3.0"/><rect x="163.0" y="201.1" width="3.0" height="3.0"/><rect x="83.3" y="140.7" width="3.0" height="3.0"/><rect x="90.1" y="157.1" width="3.0" height="3.0"/><rect x="147.0" y="192.0" width="3.0" height="3.0"/><rect x="136.2" y="185.0" width="3.0" height="3.0"/><rect x="120.9" y="173.5" width="3.0" height="3.0"/><rect x="102.1" y="179.5" width="3.0" height="3.0"/><rect x="105.0" y="181.0" width="3.0" height="3.0"/><rect x="156.6" y="186.0" width="3.0" height="3.0"/><rect x="155.0" y="208.0" width="3.0" height="3.0"/><rect x="142.8" y="186.8" width="3.0" height="3.0"/><rect x="137.4" y="199.0" width="3.0" height="3.0"/><rect x="98.2" y="153.8" width="3.0" height="3.0"/><rect x="143.6" y="197.4" width="3.0" height="3.0"/><rect x="169.0" y="201.8" width="3.0" height="3.0"/><rect x="104.3" y="179.7" width="3.0" height="3.0"/><rect x="107.4" y="135.5" width="3.0" height="3.0"/><rect x="130.5" y="163.3" width="3.0" height="3.0"/><rect x="147.3" y="189.0" width="3.0" height="3.0"/><rect x="126.1" y="180.9" width="3.0" height="3.0"/><rect x="111.0" y="154.4" width="3.0" height="3.0"/><rect x="161.6" y="202.0" width="3.0" height="3.0"/><rect x="154.2" y="201.7" width="3.0" height="3.0"/><rect x="102.9" y="163.2" width="3.0" height="3.0"/><rect x="135.6" y="195.7" width="3.0" height="3.0"/><rect x="109.6" y="154.6" width="3.0" height="3.0"/><rect x="161.3" y="205.8" width="3.0" height="3.0"/><rect x="105.5" y="144.2" width="3.0" height="3.0"/><rect x="124.3" y="158.2" width="3.0" height="3.0"/><rect x="157.9" y="181.5" width="3.0" height="3.0"/><rect x="142.2" y="163.3" width="3.0" height="3.0"/><rect x="159.7" y="189.1" width="3.0" height="3.0"/><rect x="139.4" y="155.4" width="3.0" height="3.0"/><rect x="119.7" y="176.9" width="3.0" height="3.0"/><rect x="119.9" y="139.9" width="3.0" height="3.0"/><rect x="158.0" y="215.8" width="3.0" height="3.0"/><rect x="147.2" y="168.0" width="3.0" height="3.0"/><rect x="116.8" y="181.8" width="3.0" height="3.0"/><rect x="114.4" y="141.5" width="3.0" height="3.0"/><rect x="155.3" y="195.6" width="3.0" height="3.0"/><rect x="106.6" y="148.5" width="3.0" height="3.0"/><rect x="131.3" y="177.8" width="3.0" height="3.0"/><rect x="157.7" y="206.1" width="3.0" height="3.0"/><rect x="90.4" y="163.4" width="3.0" height="3.0"/><rect x="161.9" y="192.6" width="3.0" height="3.0"/><rect x="143.8" y="168.4" width="3.0" height="3.0"/><rect x="87.5" y="141.8" width="3.0" height="3.0"/><rect x="131.9" y="163.4" width="3.0" height="3.0"/><rect x="158.3" y="202.0" width="3.0" height="3.0"/><rect x="151.1" y="204.4" width="3.0" height="3.0"/><rect x="117.7" y="178.1" width="3.0" height="3.0"/><rect x="86.1" y="134.7" width="3.0" height="3.0"/><rect x="158.5" y="208.9" width="3.0" height="3.0"/><rect x="122.1" y="162.5" width="3.0" height="3.0"/><rect x="83.5" y="144.3" width="3.0" height="3.0"/><rect x="101.1" y="141.6" width="3.0" height="3.0"/><rect x="104.3" y="176.4" width="3.0" height="3.0"/><rect x="158.9" y="177.7" width="3.0" height="3.0"/><rect x="146.9" y="171.5" width="3.0" height="3.0"/><rect x="134.3" y="202.8" width="3.0" height="3.0"/><rect x="146.7" y="167.2" width="3.0" height="3.0"/><rect x="149.0" y="197.4" width="3.0" height="3.0"/><rect x="120.9" y="161.9" width="3.0" height="3.0"/><rect x="159.2" y="190.3" width="3.0" height="3.0"/><rect x="120.6" y="183.1" width="3.0" height="3.0"/><rect x="111.2" y="182.9" width="3.0" height="3.0"/><rect x="133.6" y="149.3" width="3.0" height="3.0"/><rect x="122.2" y="156.1" width="3.0" height="3.0"/><rect x="106.0" y="163.8" width="3.0" height="3.0"/><rect x="150.9" y="207.9" width="3.0" height="3.0"/><rect x="129.4" y="178.8" width="3.0" height="3.0"/></g><g class="r"><rect x="112.0" y="87.2" width="3.0" height="3.0"/><rect x="137.3" y="91.1" width="3.0" height="3.0"/><rect x="120.8" y="95.6" width="3.0" height="3.0"/><rect x="131.9" y="103.4" width="3.0" height="3.0"/><rect x="130.9" y="107.1" width="3.0" height="3.0"/><rect x="133.9" y="108.8" width="3.0" height="3.0"/><rect x="139.8" y="105.0" width="3.0" height="3.0"/><rect x="128.9" y="109.5" width="3.0" height="3.0"/><rect x="142.3" y="114.6" width="3.0" height="3.0"/><rect x="134.7" y="123.9" width="3.0" height="3.0"/><rect x="139.3" y="123.9" width="3.0" height="3.0"/><rect x="131.9" y="128.1" width="3.0" height="3.0"/><rect x="136.4" y="131.5" width="3.0" height="3.0"/><rect x="107.0" y="123.1" width="3.0" height="3.0"/><rect x="109.5" y="124.7" width="3.0" height="3.0"/><rect x="130.6" y="104.9" width="3.0" height="3.0"/><rect x="133.7" y="106.6" width="3.0" height="3.0"/><rect x="129.4" y="106.1" width="3.0" height="3.0"/><rect x="140.0" y="99.4" width="3.0" height="3.0"/><rect x="148.0" y="109.5" width="3.0" height="3.0"/><rect x="149.6" y="115.0" width="3.0" height="3.0"/><rect x="157.6" y="119.1" width="3.0" height="3.0"/><rect x="162.6" y="115.0" width="3.0" height="3.0"/><rect x="143.4" y="120.4" width="3.0" height="3.0"/><rect x="143.4" y="124.6" width="3.0" height="3.0"/><rect x="145.4" y="123.8" width="3.0" height="3.0"/><rect x="150.5" y="120.4" width="3.0" height="3.0"/><rect x="149.6" y="123.0" width="3.0" height="3.0"/><rect x="133.7" y="130.5" width="3.0" height="3.0"/><rect x="136.2" y="133.1" width="3.0" height="3.0"/><rect x="148.0" y="127.2" width="3.0" height="3.0"/><rect x="154.7" y="128.0" width="3.0" height="3.0"/><rect x="157.6" y="128.0" width="3.0" height="3.0"/><rect x="159.7" y="128.9" width="3.0" height="3.0"/><rect x="162.6" y="123.0" width="3.0" height="3.0"/><rect x="163.1" y="125.5" width="3.0" height="3.0"/><rect x="142.9" y="138.6" width="3.0" height="3.0"/><rect x="128.6" y="138.6" width="3.0" height="3.0"/><rect x="157.2" y="135.6" width="3.0" height="3.0"/><rect x="160.6" y="134.7" width="3.0" height="3.0"/><rect x="164.0" y="137.3" width="3.0" height="3.0"/><rect x="166.5" y="133.9" width="3.0" height="3.0"/><rect x="151.0" y="122.0" width="3.0" height="3.0"/><rect x="150.2" y="135.4" width="3.0" height="3.0"/><rect x="157.8" y="138.8" width="3.0" height="3.0"/><rect x="155.2" y="139.6" width="3.0" height="3.0"/><rect x="165.3" y="132.1" width="3.0" height="3.0"/><rect x="168.7" y="131.2" width="3.0" height="3.0"/><rect x="165.3" y="142.2" width="3.0" height="3.0"/><rect x="167.0" y="143.9" width="3.0" height="3.0"/><rect x="170.4" y="138.8" width="3.0" height="3.0"/><rect x="155.2" y="150.6" width="3.0" height="3.0"/><rect x="159.4" y="149.7" width="3.0" height="3.0"/><rect x="163.7" y="152.3" width="3.0" height="3.0"/><rect x="168.7" y="154.0" width="3.0" height="3.0"/><rect x="173.8" y="148.1" width="3.0" height="3.0"/><rect x="176.3" y="139.6" width="3.0" height="3.0"/><rect x="178.8" y="141.3" width="3.0" height="3.0"/><rect x="131.1" y="109.3" width="3.0" height="3.0"/><rect x="142.4" y="113.0" width="3.0" height="3.0"/><rect x="140.9" y="123.7" width="3.0" height="3.0"/><rect x="134.9" y="129.0" width="3.0" height="3.0"/><rect x="142.4" y="135.8" width="3.0" height="3.0"/><rect x="140.9" y="138.8" width="3.0" height="3.0"/><rect x="138.7" y="141.8" width="3.0" height="3.0"/><rect x="142.4" y="143.3" width="3.0" height="3.0"/><rect x="141.7" y="147.1" width="3.0" height="3.0"/><rect x="143.5" y="145.2" width="3.0" height="3.0"/><rect x="160.4" y="155.3" width="3.0" height="3.0"/><rect x="163.8" y="158.7" width="3.0" height="3.0"/><rect x="178.9" y="159.5" width="3.0" height="3.0"/><rect x="177.2" y="165.5" width="3.0" height="3.0"/><rect x="183.1" y="166.3" width="3.0" height="3.0"/><rect x="182.3" y="173.9" width="3.0" height="3.0"/><rect x="169.6" y="170.5" width="3.0" height="3.0"/><rect x="159.5" y="162.9" width="3.0" height="3.0"/><rect x="104.0" y="61.0" width="3.0" height="3.0"/><rect x="163.3" y="131.7" width="3.0" height="3.0"/><rect x="162.7" y="142.0" width="3.0" height="3.0"/><rect x="160.3" y="145.6" width="3.0" height="3.0"/><rect x="178.9" y="160.3" width="3.0" height="3.0"/><rect x="177.7" y="165.6" width="3.0" height="3.0"/><rect x="183.6" y="165.6" width="3.0" height="3.0"/><rect x="188.9" y="161.5" width="3.0" height="3.0"/><rect x="187.7" y="166.2" width="3.0" height="3.0"/><rect x="188.3" y="171.5" width="3.0" height="3.0"/><rect x="182.4" y="173.8" width="3.0" height="3.0"/><rect x="170.0" y="150.9" width="3.0" height="3.0"/><rect x="167.7" y="155.6" width="3.0" height="3.0"/><rect x="137.0" y="91.5" width="3.0" height="3.0"/><rect x="151.6" y="133.3" width="3.0" height="3.0"/><rect x="163.4" y="144.2" width="3.0" height="3.0"/><rect x="190.3" y="136.7" width="3.0" height="3.0"/><rect x="165.2" y="126.1" width="3.0" height="3.0"/><rect x="174.7" y="140.9" width="3.0" height="3.0"/><rect x="153.4" y="119.5" width="3.0" height="3.0"/><rect x="154.0" y="128.6" width="3.0" height="3.0"/><rect x="181.0" y="142.7" width="3.0" height="3.0"/><rect x="146.3" y="131.3" width="3.0" height="3.0"/><rect x="133.6" y="135.6" width="3.0" height="3.0"/><rect x="149.6" y="133.3" width="3.0" height="3.0"/><rect x="156.1" y="137.6" width="3.0" height="3.0"/><rect x="165.1" y="134.8" width="3.0" height="3.0"/><rect x="139.0" y="97.2" width="3.0" height="3.0"/><rect x="149.1" y="134.5" width="3.0" height="3.0"/><rect x="158.8" y="127.6" width="3.0" height="3.0"/><rect x="160.6" y="135.3" width="3.0" height="3.0"/><rect x="170.2" y="149.7" width="3.0" height="3.0"/><rect x="164.1" y="137.7" width="3.0" height="3.0"/><rect x="152.3" y="119.9" width="3.0" height="3.0"/><rect x="153.0" y="125.9" width="3.0" height="3.0"/><rect x="149.2" y="130.1" width="3.0" height="3.0"/><rect x="158.0" y="126.4" width="3.0" height="3.0"/><rect x="171.1" y="141.0" width="3.0" height="3.0"/><rect x="148.8" y="137.6" width="3.0" height="3.0"/></g><g class="g"><rect x="192.7" y="133.3" width="3.0" height="3.0"/><rect x="208.1" y="139.8" width="3.0" height="3.0"/><rect x="215.6" y="148.5" width="3.0" height="3.0"/><rect x="217.5" y="169.8" width="3.0" height="3.0"/><rect x="217.6" y="149.6" width="3.0" height="3.0"/><rect x="201.9" y="154.0" width="3.0" height="3.0"/><rect x="202.3" y="162.8" width="3.0" height="3.0"/><rect x="223.6" y="159.4" width="3.0" height="3.0"/><rect x="206.7" y="146.0" width="3.0" height="3.0"/><rect x="208.3" y="156.9" width="3.0" height="3.0"/><rect x="191.5" y="145.6" width="3.0" height="3.0"/><rect x="188.3" y="153.1" width="3.0" height="3.0"/><rect x="206.0" y="153.8" width="3.0" height="3.0"/><rect x="194.6" y="136.8" width="3.0" height="3.0"/><rect x="207.1" y="149.1" width="3.0" height="3.0"/><rect x="213.8" y="150.2" width="3.0" height="3.0"/><rect x="214.8" y="147.5" width="3.0" height="3.0"/><rect x="205.4" y="136.8" width="3.0" height="3.0"/><rect x="191.7" y="134.5" width="3.0" height="3.0"/><rect x="202.5" y="159.5" width="3.0" height="3.0"/><rect x="197.7" y="148.1" width="3.0" height="3.0"/><rect x="204.7" y="160.4" width="3.0" height="3.0"/><rect x="209.9" y="157.2" width="3.0" height="3.0"/><rect x="222.9" y="164.5" width="3.0" height="3.0"/><rect x="199.1" y="140.3" width="3.0" height="3.0"/><rect x="203.2" y="156.2" width="3.0" height="3.0"/><rect x="197.3" y="153.9" width="3.0" height="3.0"/><rect x="204.1" y="135.7" width="3.0" height="3.0"/><rect x="211.6" y="166.1" width="3.0" height="3.0"/><rect x="216.1" y="157.2" width="3.0" height="3.0"/><rect x="197.6" y="139.8" width="3.0" height="3.0"/><rect x="201.3" y="138.9" width="3.0" height="3.0"/><rect x="194.3" y="149.1" width="3.0" height="3.0"/><rect x="195.3" y="140.8" width="3.0" height="3.0"/><rect x="205.2" y="163.9" width="3.0" height="3.0"/><rect x="201.6" y="161.6" width="3.0" height="3.0"/><rect x="208.8" y="142.8" width="3.0" height="3.0"/><rect x="199.8" y="148.2" width="3.0" height="3.0"/><rect x="191.9" y="146.2" width="3.0" height="3.0"/><rect x="209.3" y="160.0" width="3.0" height="3.0"/><rect x="196.0" y="138.5" width="3.0" height="3.0"/><rect x="216.3" y="154.4" width="3.0" height="3.0"/><rect x="191.0" y="142.8" width="3.0" height="3.0"/><rect x="216.9" y="151.6" width="3.0" height="3.0"/><rect x="196.7" y="127.5" width="3.0" height="3.0"/><rect x="204.4" y="142.7" width="3.0" height="3.0"/><rect x="219.8" y="168.1" width="3.0" height="3.0"/><rect x="197.7" y="156.0" width="3.0" height="3.0"/><rect x="187.0" y="140.8" width="3.0" height="3.0"/><rect x="211.7" y="150.1" width="3.0" height="3.0"/><rect x="187.5" y="128.3" width="3.0" height="3.0"/><rect x="203.9" y="147.0" width="3.0" height="3.0"/><rect x="206.5" y="146.9" width="3.0" height="3.0"/><rect x="188.9" y="144.8" width="3.0" height="3.0"/><rect x="212.5" y="146.3" width="3.0" height="3.0"/><rect x="208.6" y="141.1" width="3.0" height="3.0"/><rect x="203.3" y="160.2" width="3.0" height="3.0"/><rect x="209.7" y="163.1" width="3.0" height="3.0"/><rect x="183.3" y="133.9" width="3.0" height="3.0"/><rect x="193.8" y="138.1" width="3.0" height="3.0"/><rect x="206.5" y="156.3" width="3.0" height="3.0"/><rect x="217.0" y="146.3" width="3.0" height="3.0"/><rect x="197.0" y="136.1" width="3.0" height="3.0"/><rect x="218.7" y="153.6" width="3.0" height="3.0"/><rect x="203.5" y="141.7" width="3.0" height="3.0"/><rect x="197.2" y="139.8" width="3.0" height="3.0"/><rect x="193.0" y="134.2" width="3.0" height="3.0"/><rect x="210.3" y="163.2" width="3.0" height="3.0"/><rect x="211.4" y="160.9" width="3.0" height="3.0"/><rect x="200.5" y="139.7" width="3.0" height="3.0"/><rect x="208.9" y="140.3" width="3.0" height="3.0"/><rect x="201.3" y="155.0" width="3.0" height="3.0"/><rect x="186.3" y="128.9" width="3.0" height="3.0"/><rect x="202.9" y="152.7" width="3.0" height="3.0"/><rect x="188.7" y="137.5" width="3.0" height="3.0"/><rect x="208.4" y="157.8" width="3.0" height="3.0"/><rect x="195.6" y="134.1" width="3.0" height="3.0"/><rect x="213.7" y="165.0" width="3.0" height="3.0"/><rect x="194.1" y="147.8" width="3.0" height="3.0"/><rect x="204.3" y="144.2" width="3.0" height="3.0"/><rect x="211.5" y="148.5" width="3.0" height="3.0"/><rect x="214.6" y="156.1" width="3.0" height="3.0"/><rect x="202.2" y="157.9" width="3.0" height="3.0"/><rect x="215.1" y="161.4" width="3.0" height="3.0"/><rect x="201.5" y="160.7" width="3.0" height="3.0"/><rect x="201.3" y="143.4" width="3.0" height="3.0"/><rect x="193.6" y="139.0" width="3.0" height="3.0"/><rect x="200.1" y="159.6" width="3.0" height="3.0"/><rect x="187.0" y="147.1" width="3.0" height="3.0"/><rect x="186.8" y="138.1" width="3.0" height="3.0"/><rect x="205.8" y="141.8" width="3.0" height="3.0"/><rect x="194.6" y="140.2" width="3.0" height="3.0"/><rect x="195.3" y="140.2" width="3.0" height="3.0"/><rect x="213.8" y="151.4" width="3.0" height="3.0"/><rect x="189.1" y="145.4" width="3.0" height="3.0"/><rect x="203.0" y="152.9" width="3.0" height="3.0"/><rect x="191.8" y="128.8" width="3.0" height="3.0"/><rect x="210.7" y="146.9" width="3.0" height="3.0"/><rect x="188.9" y="135.7" width="3.0" height="3.0"/><rect x="214.4" y="146.1" width="3.0" height="3.0"/><rect x="199.4" y="154.0" width="3.0" height="3.0"/><rect x="207.1" y="149.3" width="3.0" height="3.0"/><rect x="201.2" y="135.5" width="3.0" height="3.0"/><rect x="198.8" y="149.7" width="3.0" height="3.0"/><rect x="213.9" y="153.0" width="3.0" height="3.0"/><rect x="200.0" y="144.6" width="3.0" height="3.0"/><rect x="203.6" y="151.3" width="3.0" height="3.0"/><rect x="204.0" y="141.4" width="3.0" height="3.0"/><rect x="206.8" y="157.1" width="3.0" height="3.0"/><rect x="184.4" y="140.9" width="3.0" height="3.0"/><rect x="205.7" y="161.8" width="3.0" height="3.0"/><rect x="194.4" y="139.2" width="3.0" height="3.0"/><rect x="193.3" y="145.8" width="3.0" height="3.0"/><rect x="188.6" y="123.4" width="3.0" height="3.0"/><rect x="196.5" y="140.4" width="3.0" height="3.0"/><rect x="198.9" y="154.8" width="3.0" height="3.0"/><rect x="198.3" y="134.4" width="3.0" height="3.0"/><rect x="203.9" y="151.8" width="3.0" height="3.0"/><rect x="212.5" y="167.1" width="3.0" height="3.0"/><rect x="202.0" y="149.2" width="3.0" height="3.0"/><rect x="190.3" y="151.5" width="3.0" height="3.0"/><rect x="203.2" y="145.8" width="3.0" height="3.0"/><rect x="186.5" y="126.2" width="3.0" height="3.0"/><rect x="213.6" y="147.8" width="3.0" height="3.0"/><rect x="189.7" y="136.8" width="3.0" height="3.0"/><rect x="196.4" y="143.2" width="3.0" height="3.0"/><rect x="206.9" y="146.0" width="3.0" height="3.0"/><rect x="207.9" y="158.2" width="3.0" height="3.0"/><rect x="193.3" y="153.1" width="3.0" height="3.0"/><rect x="211.9" y="154.2" width="3.0" height="3.0"/><rect x="206.1" y="164.8" width="3.0" height="3.0"/><rect x="211.0" y="164.7" width="3.0" height="3.0"/><rect x="187.9" y="131.1" width="3.0" height="3.0"/><rect x="213.4" y="145.1" width="3.0" height="3.0"/><rect x="200.1" y="145.8" width="3.0" height="3.0"/><rect x="205.5" y="160.2" width="3.0" height="3.0"/><rect x="200.7" y="141.6" width="3.0" height="3.0"/><rect x="213.8" y="147.3" width="3.0" height="3.0"/><rect x="194.2" y="158.6" width="3.0" height="3.0"/><rect x="207.2" y="157.4" width="3.0" height="3.0"/><rect x="203.8" y="157.1" width="3.0" height="3.0"/><rect x="198.5" y="141.8" width="3.0" height="3.0"/><rect x="222.4" y="165.4" width="3.0" height="3.0"/><rect x="190.8" y="133.3" width="3.0" height="3.0"/><rect x="197.6" y="138.7" width="3.0" height="3.0"/><rect x="218.9" y="170.2" width="3.0" height="3.0"/><rect x="201.2" y="141.7" width="3.0" height="3.0"/><rect x="204.3" y="153.0" width="3.0" height="3.0"/><rect x="206.3" y="155.7" width="3.0" height="3.0"/><rect x="206.0" y="146.8" width="3.0" height="3.0"/><rect x="208.6" y="158.7" width="3.0" height="3.0"/><rect x="204.4" y="155.3" width="3.0" height="3.0"/><rect x="190.1" y="136.1" width="3.0" height="3.0"/><rect x="220.9" y="161.9" width="3.0" height="3.0"/><rect x="193.7" y="136.4" width="3.0" height="3.0"/><rect x="210.5" y="156.3" width="3.0" height="3.0"/><rect x="195.5" y="143.1" width="3.0" height="3.0"/><rect x="199.0" y="137.0" width="3.0" height="3.0"/><rect x="205.8" y="149.7" width="3.0" height="3.0"/><rect x="210.3" y="144.7" width="3.0" height="3.0"/><rect x="180.6" y="138.6" width="3.0" height="3.0"/><rect x="181.0" y="132.3" width="3.0" height="3.0"/><rect x="202.4" y="157.0" width="3.0" height="3.0"/><rect x="201.1" y="152.4" width="3.0" height="3.0"/><rect x="213.6" y="155.2" width="3.0" height="3.0"/><rect x="189.0" y="149.8" width="3.0" height="3.0"/><rect x="191.8" y="157.3" width="3.0" height="3.0"/><rect x="206.4" y="144.0" width="3.0" height="3.0"/><rect x="205.6" y="147.0" width="3.0" height="3.0"/><rect x="198.1" y="152.4" width="3.0" height="3.0"/><rect x="191.0" y="138.2" width="3.0" height="3.0"/><rect x="201.2" y="148.1" width="3.0" height="3.0"/><rect x="197.8" y="148.6" width="3.0" height="3.0"/><rect x="199.4" y="149.6" width="3.0" height="3.0"/><rect x="211.5" y="165.5" width="3.0" height="3.0"/><rect x="183.1" y="128.9" width="3.0" height="3.0"/><rect x="210.0" y="169.0" width="3.0" height="3.0"/><rect x="201.2" y="152.6" width="3.0" height="3.0"/><rect x="192.2" y="148.5" width="3.0" height="3.0"/><rect x="194.8" y="141.2" width="3.0" height="3.0"/><rect x="196.8" y="148.4" width="3.0" height="3.0"/><rect x="214.9" y="156.5" width="3.0" height="3.0"/><rect x="205.6" y="134.4" width="3.0" height="3.0"/><rect x="222.6" y="168.3" width="3.0" height="3.0"/><rect x="201.3" y="142.8" width="3.0" height="3.0"/><rect x="225.0" y="173.3" width="3.0" height="3.0"/><rect x="212.3" y="165.1" width="3.0" height="3.0"/><rect x="201.5" y="149.8" width="3.0" height="3.0"/><rect x="197.5" y="138.2" width="3.0" height="3.0"/><rect x="187.6" y="143.5" width="3.0" height="3.0"/><rect x="191.6" y="148.7" width="3.0" height="3.0"/><rect x="203.9" y="158.4" width="3.0" height="3.0"/><rect x="203.4" y="140.5" width="3.0" height="3.0"/><rect x="204.9" y="146.3" width="3.0" height="3.0"/><rect x="206.9" y="154.1" width="3.0" height="3.0"/><rect x="192.3" y="134.4" width="3.0" height="3.0"/><rect x="207.1" y="140.1" width="3.0" height="3.0"/><rect x="195.3" y="151.2" width="3.0" height="3.0"/><rect x="191.2" y="140.5" width="3.0" height="3.0"/><rect x="211.5" y="149.4" width="3.0" height="3.0"/><rect x="208.7" y="143.1" width="3.0" height="3.0"/><rect x="210.0" y="165.3" width="3.0" height="3.0"/><rect x="202.9" y="165.3" width="3.0" height="3.0"/><rect x="214.3" y="165.3" width="3.0" height="3.0"/><rect x="212.8" y="161.4" width="3.0" height="3.0"/><rect x="212.1" y="159.4" width="3.0" height="3.0"/><rect x="205.3" y="147.4" width="3.0" height="3.0"/><rect x="189.6" y="148.1" width="3.0" height="3.0"/><rect x="203.7" y="157.9" width="3.0" height="3.0"/><rect x="200.9" y="146.5" width="3.0" height="3.0"/><rect x="216.9" y="147.6" width="3.0" height="3.0"/><rect x="205.9" y="150.1" width="3.0" height="3.0"/><rect x="177.4" y="132.9" width="3.0" height="3.0"/><rect x="204.0" y="154.5" width="3.0" height="3.0"/><rect x="183.8" y="129.7" width="3.0" height="3.0"/><rect x="172.0" y="125.3" width="3.0" height="3.0"/><rect x="184.5" y="115.5" width="3.0" height="3.0"/><rect x="219.0" y="184.2" width="3.0" height="3.0"/><rect x="237.1" y="186.9" width="3.0" height="3.0"/><rect x="233.1" y="174.5" width="3.0" height="3.0"/><rect x="202.7" y="130.5" width="3.0" height="3.0"/><rect x="211.5" y="176.5" width="3.0" height="3.0"/><rect x="175.7" y="135.5" width="3.0" height="3.0"/><rect x="181.6" y="135.5" width="3.0" height="3.0"/><rect x="185.8" y="149.5" width="3.0" height="3.0"/><rect x="184.9" y="132.5" width="3.0" height="3.0"/><rect x="178.8" y="138.5" width="3.0" height="3.0"/><rect x="179.4" y="140.1" width="3.0" height="3.0"/><rect x="183.8" y="129.4" width="3.0" height="3.0"/><rect x="181.3" y="140.7" width="3.0" height="3.0"/><rect x="173.0" y="134.6" width="3.0" height="3.0"/><rect x="189.8" y="150.2" width="3.0" height="3.0"/><rect x="174.5" y="135.6" width="3.0" height="3.0"/><rect x="178.1" y="124.4" width="3.0" height="3.0"/><rect x="187.0" y="137.8" width="3.0" height="3.0"/><rect x="183.1" y="129.3" width="3.0" height="3.0"/><rect x="173.6" y="131.8" width="3.0" height="3.0"/><rect x="187.4" y="129.7" width="3.0" height="3.0"/></g><ellipse cx="126.60" cy="174.50" rx="60.44" ry="24.64" transform="rotate(-136.69 126.60 174.50)" fill="none" stroke="#3434c0" stroke-width="1.3"/><ellipse cx="159.00" cy="139.40" rx="53.65" ry="26.31" transform="rotate(-135.20 159.00 139.40)" fill="none" stroke="#c03840" stroke-width="1.2"/><ellipse cx="202.30" cy="150.15" rx="33.43" ry="13.63" transform="rotate(47.56 202.30 150.15)" fill="none" stroke="#40b040" stroke-width="1.2"/><g transform="translate(260.0 0)"><g class="bo"><rect x="47.1" y="79.1" width="3.0" height="3.0"/><rect x="58.5" y="80.0" width="3.0" height="3.0"/><rect x="68.3" y="87.0" width="3.0" height="3.0"/><rect x="70.3" y="88.7" width="3.0" height="3.0"/><rect x="49.1" y="94.6" width="3.0" height="3.0"/><rect x="82.5" y="94.6" width="3.0" height="3.0"/><rect x="63.9" y="104.3" width="3.0" height="3.0"/><rect x="59.7" y="110.9" width="3.0" height="3.0"/><rect x="68.8" y="114.1" width="3.0" height="3.0"/><rect x="81.5" y="114.1" width="3.0" height="3.0"/><rect x="78.2" y="118.2" width="3.0" height="3.0"/><rect x="93.0" y="106.4" width="3.0" height="3.0"/><rect x="97.1" y="109.9" width="3.0" height="3.0"/><rect x="99.4" y="111.8" width="3.0" height="3.0"/><rect x="63.0" y="124.0" width="3.0" height="3.0"/><rect x="55.1" y="127.2" width="3.0" height="3.0"/><rect x="70.3" y="124.6" width="3.0" height="3.0"/><rect x="72.1" y="126.5" width="3.0" height="3.0"/><rect x="71.4" y="131.8" width="3.0" height="3.0"/><rect x="72.9" y="134.9" width="3.0" height="3.0"/><rect x="69.4" y="137.1" width="3.0" height="3.0"/><rect x="82.0" y="124.3" width="3.0" height="3.0"/><rect x="83.5" y="125.8" width="3.0" height="3.0"/><rect x="91.1" y="124.3" width="3.0" height="3.0"/><rect x="94.9" y="125.5" width="3.0" height="3.0"/><rect x="99.4" y="123.5" width="3.0" height="3.0"/><rect x="99.7" y="111.2" width="3.0" height="3.0"/><rect x="100.0" y="122.9" width="3.0" height="3.0"/><rect x="104.5" y="127.4" width="3.0" height="3.0"/><rect x="75.2" y="145.3" width="3.0" height="3.0"/><rect x="75.9" y="149.1" width="3.0" height="3.0"/><rect x="75.2" y="152.1" width="3.0" height="3.0"/><rect x="108.2" y="192.9" width="3.0" height="3.0"/><rect x="118.8" y="204.3" width="3.0" height="3.0"/><rect x="120.3" y="205.5" width="3.0" height="3.0"/><rect x="144.3" y="224.5" width="3.0" height="3.0"/><rect x="148.7" y="220.5" width="3.0" height="3.0"/><rect x="155.3" y="219.0" width="3.0" height="3.0"/><rect x="163.6" y="219.4" width="3.0" height="3.0"/><rect x="177.8" y="222.3" width="3.0" height="3.0"/><rect x="198.2" y="217.5" width="3.0" height="3.0"/><rect x="186.0" y="237.6" width="3.0" height="3.0"/><rect x="174.8" y="187.9" width="3.0" height="3.0"/><rect x="181.9" y="196.2" width="3.0" height="3.0"/><rect x="182.4" y="199.7" width="3.0" height="3.0"/><rect x="178.1" y="204.5" width="3.0" height="3.0"/><rect x="176.5" y="208.0" width="3.0" height="3.0"/><rect x="133.3" y="143.3" width="3.0" height="3.0"/><rect x="85.9" y="128.9" width="3.0" height="3.0"/><rect x="72.0" y="129.0" width="3.0" height="3.0"/><rect x="94.3" y="106.2" width="3.0" height="3.0"/><rect x="97.7" y="109.6" width="3.0" height="3.0"/><rect x="110.2" y="125.0" width="3.0" height="3.0"/><rect x="119.4" y="131.7" width="3.0" height="3.0"/><rect x="142.2" y="139.3" width="3.0" height="3.0"/><rect x="143.0" y="145.2" width="3.0" height="3.0"/><rect x="158.5" y="155.9" width="3.0" height="3.0"/><rect x="162.0" y="162.0" width="3.0" height="3.0"/><rect x="167.4" y="160.3" width="3.0" height="3.0"/><rect x="163.4" y="168.8" width="3.0" height="3.0"/><rect x="166.2" y="172.5" width="3.0" height="3.0"/><rect x="165.0" y="179.2" width="3.0" height="3.0"/><rect x="144.3" y="146.0" width="3.0" height="3.0"/></g><g class="b"><rect x="126.4" y="178.7" width="3.0" height="3.0"/><rect x="139.6" y="174.6" width="3.0" height="3.0"/><rect x="143.5" y="176.9" width="3.0" height="3.0"/><rect x="118.2" y="185.3" width="3.0" height="3.0"/><rect x="141.6" y="180.3" width="3.0" height="3.0"/><rect x="117.2" y="170.8" width="3.0" height="3.0"/><rect x="133.0" y="167.9" width="3.0" height="3.0"/><rect x="124.2" y="182.1" width="3.0" height="3.0"/><rect x="155.8" y="195.9" width="3.0" height="3.0"/><rect x="163.2" y="206.0" width="3.0" height="3.0"/><rect x="149.4" y="200.0" width="3.0" height="3.0"/><rect x="127.0" y="172.5" width="3.0" height="3.0"/><rect x="128.6" y="178.2" width="3.0" height="3.0"/><rect x="159.3" y="198.9" width="3.0" height="3.0"/><rect x="151.7" y="187.1" width="3.0" height="3.0"/><rect x="115.0" y="152.6" width="3.0" height="3.0"/><rect x="123.0" y="183.5" width="3.0" height="3.0"/><rect x="139.8" y="185.6" width="3.0" height="3.0"/><rect x="126.1" y="175.1" width="3.0" height="3.0"/><rect x="150.0" y="197.8" width="3.0" height="3.0"/><rect x="114.8" y="142.1" width="3.0" height="3.0"/><rect x="112.2" y="162.8" width="3.0" height="3.0"/><rect x="126.2" y="202.0" width="3.0" height="3.0"/><rect x="123.1" y="154.8" width="3.0" height="3.0"/><rect x="123.2" y="179.5" width="3.0" height="3.0"/><rect x="127.2" y="184.7" width="3.0" height="3.0"/><rect x="125.1" y="182.5" width="3.0" height="3.0"/><rect x="107.3" y="147.2" width="3.0" height="3.0"/><rect x="128.0" y="169.7" width="3.0" height="3.0"/><rect x="134.4" y="165.6" width="3.0" height="3.0"/><rect x="140.3" y="184.9" width="3.0" height="3.0"/><rect x="104.4" y="169.7" width="3.0" height="3.0"/><rect x="157.8" y="193.1" width="3.0" height="3.0"/><rect x="130.6" y="150.9" width="3.0" height="3.0"/><rect x="137.5" y="183.6" width="3.0" height="3.0"/><rect x="101.2" y="160.3" width="3.0" height="3.0"/><rect x="136.9" y="179.3" width="3.0" height="3.0"/><rect x="122.5" y="191.9" width="3.0" height="3.0"/><rect x="138.3" y="181.5" width="3.0" height="3.0"/><rect x="123.0" y="169.6" width="3.0" height="3.0"/><rect x="139.7" y="171.7" width="3.0" height="3.0"/><rect x="131.8" y="173.4" width="3.0" height="3.0"/><rect x="103.0" y="161.5" width="3.0" height="3.0"/><rect x="124.3" y="181.8" width="3.0" height="3.0"/><rect x="127.3" y="190.0" width="3.0" height="3.0"/><rect x="124.6" y="180.9" width="3.0" height="3.0"/><rect x="149.3" y="200.9" width="3.0" height="3.0"/><rect x="140.2" y="175.1" width="3.0" height="3.0"/><rect x="110.0" y="190.2" width="3.0" height="3.0"/><rect x="147.8" y="186.0" width="3.0" height="3.0"/><rect x="121.4" y="176.6" width="3.0" height="3.0"/><rect x="133.1" y="178.0" width="3.0" height="3.0"/><rect x="112.3" y="168.4" width="3.0" height="3.0"/><rect x="147.6" y="193.4" width="3.0" height="3.0"/><rect x="135.1" y="168.2" width="3.0" height="3.0"/><rect x="129.8" y="165.8" width="3.0" height="3.0"/><rect x="109.7" y="161.4" width="3.0" height="3.0"/><rect x="131.0" y="170.7" width="3.0" height="3.0"/><rect x="144.4" y="163.9" width="3.0" height="3.0"/><rect x="146.3" y="198.3" width="3.0" height="3.0"/><rect x="154.7" y="211.6" width="3.0" height="3.0"/><rect x="138.3" y="196.5" width="3.0" height="3.0"/><rect x="136.8" y="163.0" width="3.0" height="3.0"/><rect x="96.1" y="165.9" width="3.0" height="3.0"/><rect x="131.6" y="175.6" width="3.0" height="3.0"/><rect x="138.1" y="172.1" width="3.0" height="3.0"/><rect x="112.5" y="153.9" width="3.0" height="3.0"/><rect x="134.9" y="171.6" width="3.0" height="3.0"/><rect x="148.6" y="177.7" width="3.0" height="3.0"/><rect x="107.0" y="154.1" width="3.0" height="3.0"/><rect x="111.1" y="160.2" width="3.0" height="3.0"/><rect x="143.2" y="185.9" width="3.0" height="3.0"/><rect x="138.5" y="186.0" width="3.0" height="3.0"/><rect x="137.3" y="180.7" width="3.0" height="3.0"/><rect x="158.8" y="193.9" width="3.0" height="3.0"/><rect x="103.4" y="143.6" width="3.0" height="3.0"/><rect x="145.1" y="196.8" width="3.0" height="3.0"/><rect x="113.3" y="142.0" width="3.0" height="3.0"/><rect x="136.6" y="175.4" width="3.0" height="3.0"/><rect x="155.1" y="211.7" width="3.0" height="3.0"/><rect x="128.4" y="177.4" width="3.0" height="3.0"/><rect x="138.9" y="192.6" width="3.0" height="3.0"/><rect x="139.2" y="184.6" width="3.0" height="3.0"/><rect x="156.8" y="186.4" width="3.0" height="3.0"/><rect x="108.0" y="150.2" width="3.0" height="3.0"/><rect x="123.5" y="171.3" width="3.0" height="3.0"/><rect x="139.9" y="180.2" width="3.0" height="3.0"/><rect x="119.3" y="163.6" width="3.0" height="3.0"/><rect x="131.1" y="179.2" width="3.0" height="3.0"/><rect x="102.7" y="161.6" width="3.0" height="3.0"/><rect x="125.5" y="165.9" width="3.0" height="3.0"/><rect x="146.8" y="206.9" width="3.0" height="3.0"/><rect x="112.1" y="159.1" width="3.0" height="3.0"/><rect x="113.4" y="173.0" width="3.0" height="3.0"/><rect x="107.2" y="169.2" width="3.0" height="3.0"/><rect x="126.2" y="195.3" width="3.0" height="3.0"/><rect x="144.9" y="203.9" width="3.0" height="3.0"/><rect x="113.6" y="174.5" width="3.0" height="3.0"/><rect x="84.5" y="155.6" width="3.0" height="3.0"/><rect x="160.7" y="183.5" width="3.0" height="3.0"/><rect x="120.8" y="155.2" width="3.0" height="3.0"/><rect x="122.9" y="182.9" width="3.0" height="3.0"/><rect x="123.5" y="172.4" width="3.0" height="3.0"/><rect x="132.7" y="180.9" width="3.0" height="3.0"/><rect x="154.4" y="180.0" width="3.0" height="3.0"/><rect x="138.2" y="172.2" width="3.0" height="3.0"/><rect x="154.5" y="208.0" width="3.0" height="3.0"/><rect x="126.8" y="180.5" width="3.0" height="3.0"/><rect x="150.8" y="188.4" width="3.0" height="3.0"/><rect x="152.6" y="186.9" width="3.0" height="3.0"/><rect x="130.4" y="167.5" width="3.0" height="3.0"/><rect x="119.8" y="173.0" width="3.0" height="3.0"/><rect x="101.7" y="132.0" width="3.0" height="3.0"/><rect x="113.2" y="160.8" width="3.0" height="3.0"/><rect x="138.8" y="166.1" width="3.0" height="3.0"/><rect x="131.6" y="189.7" width="3.0" height="3.0"/><rect x="129.4" y="178.5" width="3.0" height="3.0"/><rect x="125.8" y="189.9" width="3.0" height="3.0"/><rect x="144.1" y="160.7" width="3.0" height="3.0"/><rect x="154.5" y="173.8" width="3.0" height="3.0"/><rect x="104.2" y="154.3" width="3.0" height="3.0"/><rect x="156.1" y="189.5" width="3.0" height="3.0"/><rect x="107.1" y="158.5" width="3.0" height="3.0"/><rect x="128.0" y="175.3" width="3.0" height="3.0"/><rect x="122.2" y="181.8" width="3.0" height="3.0"/><rect x="117.1" y="168.7" width="3.0" height="3.0"/><rect x="143.7" y="197.9" width="3.0" height="3.0"/><rect x="133.2" y="196.1" width="3.0" height="3.0"/><rect x="152.3" y="197.0" width="3.0" height="3.0"/><rect x="137.8" y="166.9" width="3.0" height="3.0"/><rect x="87.5" y="158.0" width="3.0" height="3.0"/><rect x="131.5" y="190.0" width="3.0" height="3.0"/><rect x="124.4" y="171.8" width="3.0" height="3.0"/><rect x="134.4" y="167.2" width="3.0" height="3.0"/><rect x="134.6" y="179.8" width="3.0" height="3.0"/><rect x="104.8" y="158.8" width="3.0" height="3.0"/><rect x="118.0" y="187.8" width="3.0" height="3.0"/><rect x="141.2" y="183.1" width="3.0" height="3.0"/><rect x="104.8" y="166.9" width="3.0" height="3.0"/><rect x="115.7" y="166.0" width="3.0" height="3.0"/><rect x="126.4" y="171.0" width="3.0" height="3.0"/><rect x="131.8" y="180.3" width="3.0" height="3.0"/><rect x="97.5" y="155.0" width="3.0" height="3.0"/><rect x="133.6" y="173.2" width="3.0" height="3.0"/><rect x="128.8" y="199.0" width="3.0" height="3.0"/><rect x="118.9" y="168.4" width="3.0" height="3.0"/><rect x="142.4" y="174.2" width="3.0" height="3.0"/><rect x="123.7" y="184.0" width="3.0" height="3.0"/><rect x="137.1" y="181.5" width="3.0" height="3.0"/><rect x="131.7" y="181.0" width="3.0" height="3.0"/><rect x="158.8" y="201.8" width="3.0" height="3.0"/><rect x="137.7" y="197.5" width="3.0" height="3.0"/><rect x="138.4" y="193.8" width="3.0" height="3.0"/><rect x="103.3" y="148.4" width="3.0" height="3.0"/><rect x="138.0" y="188.1" width="3.0" height="3.0"/><rect x="135.4" y="169.3" width="3.0" height="3.0"/><rect x="106.3" y="183.5" width="3.0" height="3.0"/><rect x="134.5" y="179.4" width="3.0" height="3.0"/><rect x="145.1" y="196.5" width="3.0" height="3.0"/><rect x="158.6" y="189.5" width="3.0" height="3.0"/><rect x="111.8" y="148.2" width="3.0" height="3.0"/><rect x="98.5" y="169.4" width="3.0" height="3.0"/><rect x="120.0" y="176.2" width="3.0" height="3.0"/><rect x="94.8" y="142.0" width="3.0" height="3.0"/><rect x="148.5" y="176.6" width="3.0" height="3.0"/><rect x="117.5" y="186.6" width="3.0" height="3.0"/><rect x="117.8" y="153.3" width="3.0" height="3.0"/><rect x="147.4" y="187.3" width="3.0" height="3.0"/><rect x="124.7" y="170.0" width="3.0" height="3.0"/><rect x="122.6" y="175.0" width="3.0" height="3.0"/><rect x="134.1" y="181.3" width="3.0" height="3.0"/><rect x="125.4" y="172.4" width="3.0" height="3.0"/><rect x="106.5" y="181.7" width="3.0" height="3.0"/><rect x="117.5" y="166.9" width="3.0" height="3.0"/><rect x="156.1" y="207.9" width="3.0" height="3.0"/><rect x="108.3" y="167.2" width="3.0" height="3.0"/><rect x="143.0" y="166.5" width="3.0" height="3.0"/><rect x="139.9" y="177.8" width="3.0" height="3.0"/><rect x="101.5" y="182.3" width="3.0" height="3.0"/><rect x="130.0" y="167.1" width="3.0" height="3.0"/><rect x="149.9" y="195.9" width="3.0" height="3.0"/><rect x="139.6" y="171.1" width="3.0" height="3.0"/><rect x="134.4" y="166.1" width="3.0" height="3.0"/><rect x="101.2" y="165.5" width="3.0" height="3.0"/><rect x="112.3" y="154.7" width="3.0" height="3.0"/><rect x="120.2" y="166.8" width="3.0" height="3.0"/><rect x="137.8" y="180.6" width="3.0" height="3.0"/><rect x="161.8" y="187.9" width="3.0" height="3.0"/><rect x="115.5" y="161.6" width="3.0" height="3.0"/><rect x="117.7" y="180.2" width="3.0" height="3.0"/><rect x="165.1" y="200.1" width="3.0" height="3.0"/><rect x="122.6" y="176.4" width="3.0" height="3.0"/><rect x="128.2" y="190.4" width="3.0" height="3.0"/><rect x="133.1" y="164.0" width="3.0" height="3.0"/><rect x="139.7" y="198.2" width="3.0" height="3.0"/><rect x="133.3" y="154.7" width="3.0" height="3.0"/><rect x="100.2" y="158.1" width="3.0" height="3.0"/><rect x="107.0" y="150.9" width="3.0" height="3.0"/><rect x="141.6" y="173.3" width="3.0" height="3.0"/><rect x="84.1" y="132.2" width="3.0" height="3.0"/><rect x="104.4" y="144.9" width="3.0" height="3.0"/><rect x="137.1" y="161.5" width="3.0" height="3.0"/><rect x="128.6" y="190.2" width="3.0" height="3.0"/><rect x="143.6" y="205.6" width="3.0" height="3.0"/><rect x="129.6" y="163.1" width="3.0" height="3.0"/><rect x="140.7" y="181.6" width="3.0" height="3.0"/><rect x="133.1" y="173.4" width="3.0" height="3.0"/><rect x="145.5" y="188.3" width="3.0" height="3.0"/><rect x="155.9" y="184.4" width="3.0" height="3.0"/><rect x="123.3" y="183.8" width="3.0" height="3.0"/><rect x="156.0" y="202.4" width="3.0" height="3.0"/><rect x="146.9" y="180.3" width="3.0" height="3.0"/><rect x="116.7" y="158.2" width="3.0" height="3.0"/><rect x="107.0" y="145.4" width="3.0" height="3.0"/><rect x="123.1" y="168.3" width="3.0" height="3.0"/><rect x="138.0" y="193.6" width="3.0" height="3.0"/><rect x="127.1" y="183.5" width="3.0" height="3.0"/><rect x="136.8" y="169.3" width="3.0" height="3.0"/><rect x="130.0" y="178.6" width="3.0" height="3.0"/><rect x="117.5" y="153.6" width="3.0" height="3.0"/><rect x="141.1" y="164.5" width="3.0" height="3.0"/><rect x="124.3" y="157.5" width="3.0" height="3.0"/><rect x="161.4" y="206.7" width="3.0" height="3.0"/><rect x="119.2" y="146.6" width="3.0" height="3.0"/><rect x="153.2" y="189.5" width="3.0" height="3.0"/><rect x="146.2" y="198.4" width="3.0" height="3.0"/><rect x="148.0" y="184.9" width="3.0" height="3.0"/><rect x="123.2" y="161.1" width="3.0" height="3.0"/><rect x="127.4" y="162.1" width="3.0" height="3.0"/><rect x="163.0" y="183.6" width="3.0" height="3.0"/><rect x="97.3" y="142.6" width="3.0" height="3.0"/><rect x="124.3" y="172.1" width="3.0" height="3.0"/><rect x="125.3" y="174.2" width="3.0" height="3.0"/><rect x="101.4" y="136.6" width="3.0" height="3.0"/><rect x="163.5" y="195.5" width="3.0" height="3.0"/><rect x="147.3" y="204.6" width="3.0" height="3.0"/><rect x="120.4" y="155.6" width="3.0" height="3.0"/><rect x="155.9" y="197.5" width="3.0" height="3.0"/><rect x="126.5" y="159.7" width="3.0" height="3.0"/><rect x="117.2" y="151.0" width="3.0" height="3.0"/><rect x="144.0" y="170.3" width="3.0" height="3.0"/><rect x="136.5" y="203.2" width="3.0" height="3.0"/><rect x="116.5" y="159.7" width="3.0" height="3.0"/><rect x="157.2" y="177.4" width="3.0" height="3.0"/><rect x="135.8" y="182.9" width="3.0" height="3.0"/><rect x="130.7" y="177.2" width="3.0" height="3.0"/><rect x="149.1" y="195.0" width="3.0" height="3.0"/><rect x="120.3" y="186.6" width="3.0" height="3.0"/><rect x="95.9" y="143.9" width="3.0" height="3.0"/><rect x="142.7" y="189.0" width="3.0" height="3.0"/><rect x="144.5" y="181.4" width="3.0" height="3.0"/><rect x="136.8" y="169.8" width="3.0" height="3.0"/><rect x="118.3" y="165.5" width="3.0" height="3.0"/><rect x="125.3" y="170.9" width="3.0" height="3.0"/><rect x="148.1" y="181.9" width="3.0" height="3.0"/><rect x="136.6" y="176.5" width="3.0" height="3.0"/><rect x="124.3" y="172.5" width="3.0" height="3.0"/><rect x="152.5" y="200.1" width="3.0" height="3.0"/><rect x="156.9" y="194.7" width="3.0" height="3.0"/><rect x="148.1" y="166.3" width="3.0" height="3.0"/><rect x="125.8" y="176.1" width="3.0" height="3.0"/><rect x="134.3" y="176.1" width="3.0" height="3.0"/><rect x="142.0" y="175.7" width="3.0" height="3.0"/><rect x="137.2" y="177.0" width="3.0" height="3.0"/><rect x="135.2" y="166.1" width="3.0" height="3.0"/><rect x="123.3" y="173.6" width="3.0" height="3.0"/><rect x="134.1" y="175.7" width="3.0" height="3.0"/><rect x="130.1" y="154.9" width="3.0" height="3.0"/><rect x="118.5" y="170.5" width="3.0" height="3.0"/><rect x="120.8" y="174.5" width="3.0" height="3.0"/><rect x="142.0" y="185.7" width="3.0" height="3.0"/><rect x="114.1" y="168.9" width="3.0" height="3.0"/><rect x="135.2" y="161.9" width="3.0" height="3.0"/><rect x="110.8" y="176.0" width="3.0" height="3.0"/><rect x="108.7" y="161.1" width="3.0" height="3.0"/><rect x="150.0" y="209.8" width="3.0" height="3.0"/><rect x="132.0" y="159.2" width="3.0" height="3.0"/><rect x="156.2" y="193.8" width="3.0" height="3.0"/><rect x="108.2" y="152.2" width="3.0" height="3.0"/><rect x="111.6" y="184.7" width="3.0" height="3.0"/><rect x="100.6" y="148.7" width="3.0" height="3.0"/><rect x="141.5" y="171.4" width="3.0" height="3.0"/><rect x="138.0" y="191.4" width="3.0" height="3.0"/><rect x="120.6" y="170.6" width="3.0" height="3.0"/><rect x="116.0" y="154.0" width="3.0" height="3.0"/><rect x="124.5" y="182.8" width="3.0" height="3.0"/><rect x="110.6" y="174.5" width="3.0" height="3.0"/><rect x="123.5" y="167.5" width="3.0" height="3.0"/><rect x="128.9" y="163.0" width="3.0" height="3.0"/><rect x="154.0" y="208.5" width="3.0" height="3.0"/><rect x="127.4" y="179.7" width="3.0" height="3.0"/><rect x="161.5" y="202.6" width="3.0" height="3.0"/><rect x="145.2" y="180.3" width="3.0" height="3.0"/><rect x="109.7" y="164.1" width="3.0" height="3.0"/><rect x="139.4" y="186.6" width="3.0" height="3.0"/><rect x="127.0" y="182.6" width="3.0" height="3.0"/><rect x="104.5" y="177.4" width="3.0" height="3.0"/><rect x="105.9" y="159.6" width="3.0" height="3.0"/><rect x="117.6" y="177.2" width="3.0" height="3.0"/><rect x="138.5" y="185.3" width="3.0" height="3.0"/><rect x="98.7" y="175.5" width="3.0" height="3.0"/><rect x="131.7" y="178.8" width="3.0" height="3.0"/><rect x="115.7" y="183.0" width="3.0" height="3.0"/><rect x="118.9" y="187.8" width="3.0" height="3.0"/><rect x="147.2" y="191.5" width="3.0" height="3.0"/><rect x="126.6" y="185.6" width="3.0" height="3.0"/><rect x="120.1" y="147.7" width="3.0" height="3.0"/><rect x="142.6" y="194.5" width="3.0" height="3.0"/><rect x="150.9" y="176.5" width="3.0" height="3.0"/><rect x="106.4" y="162.5" width="3.0" height="3.0"/><rect x="122.9" y="164.7" width="3.0" height="3.0"/><rect x="111.7" y="157.3" width="3.0" height="3.0"/><rect x="115.1" y="151.2" width="3.0" height="3.0"/><rect x="142.4" y="192.5" width="3.0" height="3.0"/><rect x="136.5" y="193.3" width="3.0" height="3.0"/><rect x="130.2" y="165.3" width="3.0" height="3.0"/><rect x="129.6" y="172.7" width="3.0" height="3.0"/><rect x="116.4" y="156.4" width="3.0" height="3.0"/><rect x="128.0" y="192.8" width="3.0" height="3.0"/><rect x="125.9" y="177.0" width="3.0" height="3.0"/><rect x="101.8" y="149.6" width="3.0" height="3.0"/><rect x="145.2" y="193.9" width="3.0" height="3.0"/><rect x="126.1" y="162.8" width="3.0" height="3.0"/><rect x="168.0" y="193.9" width="3.0" height="3.0"/><rect x="121.8" y="159.7" width="3.0" height="3.0"/><rect x="129.6" y="180.5" width="3.0" height="3.0"/><rect x="119.7" y="163.6" width="3.0" height="3.0"/><rect x="125.7" y="161.5" width="3.0" height="3.0"/><rect x="142.1" y="175.1" width="3.0" height="3.0"/><rect x="108.3" y="157.1" width="3.0" height="3.0"/><rect x="144.2" y="186.4" width="3.0" height="3.0"/><rect x="127.6" y="185.4" width="3.0" height="3.0"/><rect x="164.3" y="195.9" width="3.0" height="3.0"/><rect x="112.1" y="159.5" width="3.0" height="3.0"/><rect x="101.5" y="179.5" width="3.0" height="3.0"/><rect x="135.2" y="177.8" width="3.0" height="3.0"/><rect x="103.3" y="159.6" width="3.0" height="3.0"/><rect x="119.9" y="161.4" width="3.0" height="3.0"/><rect x="82.1" y="156.4" width="3.0" height="3.0"/><rect x="113.6" y="171.9" width="3.0" height="3.0"/><rect x="160.5" y="215.5" width="3.0" height="3.0"/><rect x="129.0" y="183.0" width="3.0" height="3.0"/><rect x="118.6" y="162.4" width="3.0" height="3.0"/><rect x="156.3" y="207.8" width="3.0" height="3.0"/><rect x="144.1" y="186.6" width="3.0" height="3.0"/><rect x="141.7" y="184.2" width="3.0" height="3.0"/><rect x="116.3" y="180.4" width="3.0" height="3.0"/><rect x="92.8" y="143.1" width="3.0" height="3.0"/><rect x="167.1" y="200.5" width="3.0" height="3.0"/><rect x="153.7" y="193.3" width="3.0" height="3.0"/><rect x="140.9" y="160.5" width="3.0" height="3.0"/><rect x="132.8" y="159.6" width="3.0" height="3.0"/><rect x="123.9" y="170.7" width="3.0" height="3.0"/><rect x="134.6" y="181.3" width="3.0" height="3.0"/><rect x="142.4" y="181.2" width="3.0" height="3.0"/><rect x="158.9" y="204.8" width="3.0" height="3.0"/><rect x="99.9" y="159.3" width="3.0" height="3.0"/><rect x="130.7" y="198.5" width="3.0" height="3.0"/><rect x="130.0" y="176.9" width="3.0" height="3.0"/><rect x="133.1" y="182.1" width="3.0" height="3.0"/><rect x="136.9" y="183.3" width="3.0" height="3.0"/><rect x="150.6" y="192.1" width="3.0" height="3.0"/><rect x="88.0" y="137.4" width="3.0" height="3.0"/><rect x="129.1" y="184.4" width="3.0" height="3.0"/><rect x="123.5" y="156.3" width="3.0" height="3.0"/><rect x="125.9" y="186.7" width="3.0" height="3.0"/><rect x="122.8" y="172.8" width="3.0" height="3.0"/><rect x="105.3" y="145.2" width="3.0" height="3.0"/><rect x="130.6" y="171.3" width="3.0" height="3.0"/><rect x="115.2" y="137.0" width="3.0" height="3.0"/><rect x="144.2" y="184.0" width="3.0" height="3.0"/><rect x="112.4" y="169.7" width="3.0" height="3.0"/><rect x="114.3" y="141.3" width="3.0" height="3.0"/><rect x="117.0" y="161.6" width="3.0" height="3.0"/><rect x="136.7" y="191.7" width="3.0" height="3.0"/><rect x="159.4" y="176.9" width="3.0" height="3.0"/><rect x="145.5" y="171.8" width="3.0" height="3.0"/><rect x="137.6" y="190.2" width="3.0" height="3.0"/><rect x="111.9" y="182.8" width="3.0" height="3.0"/><rect x="142.7" y="168.6" width="3.0" height="3.0"/><rect x="148.4" y="182.6" width="3.0" height="3.0"/><rect x="147.4" y="200.3" width="3.0" height="3.0"/><rect x="153.8" y="172.9" width="3.0" height="3.0"/><rect x="116.7" y="163.9" width="3.0" height="3.0"/><rect x="121.4" y="171.2" width="3.0" height="3.0"/><rect x="116.9" y="166.1" width="3.0" height="3.0"/><rect x="103.4" y="158.7" width="3.0" height="3.0"/><rect x="118.6" y="172.9" width="3.0" height="3.0"/><rect x="155.8" y="200.0" width="3.0" height="3.0"/><rect x="131.7" y="182.4" width="3.0" height="3.0"/><rect x="141.6" y="211.5" width="3.0" height="3.0"/><rect x="135.0" y="165.9" width="3.0" height="3.0"/><rect x="161.2" y="203.4" width="3.0" height="3.0"/><rect x="135.1" y="172.8" width="3.0" height="3.0"/><rect x="131.3" y="170.2" width="3.0" height="3.0"/><rect x="123.6" y="161.8" width="3.0" height="3.0"/><rect x="122.4" y="184.3" width="3.0" height="3.0"/><rect x="142.6" y="178.2" width="3.0" height="3.0"/><rect x="122.3" y="154.8" width="3.0" height="3.0"/><rect x="137.4" y="184.5" width="3.0" height="3.0"/><rect x="152.7" y="186.1" width="3.0" height="3.0"/><rect x="151.6" y="169.2" width="3.0" height="3.0"/><rect x="157.3" y="198.0" width="3.0" height="3.0"/><rect x="127.1" y="172.6" width="3.0" height="3.0"/><rect x="163.6" y="203.1" width="3.0" height="3.0"/><rect x="110.3" y="167.0" width="3.0" height="3.0"/><rect x="136.0" y="171.3" width="3.0" height="3.0"/><rect x="121.2" y="161.6" width="3.0" height="3.0"/><rect x="155.1" y="190.4" width="3.0" height="3.0"/><rect x="101.0" y="153.6" width="3.0" height="3.0"/><rect x="111.0" y="153.4" width="3.0" height="3.0"/><rect x="115.8" y="156.2" width="3.0" height="3.0"/><rect x="118.2" y="159.8" width="3.0" height="3.0"/><rect x="127.8" y="180.3" width="3.0" height="3.0"/><rect x="110.1" y="152.4" width="3.0" height="3.0"/><rect x="161.7" y="203.9" width="3.0" height="3.0"/><rect x="127.5" y="177.0" width="3.0" height="3.0"/><rect x="102.7" y="156.5" width="3.0" height="3.0"/><rect x="121.5" y="154.7" width="3.0" height="3.0"/><rect x="98.4" y="177.2" width="3.0" height="3.0"/><rect x="112.9" y="165.3" width="3.0" height="3.0"/><rect x="113.4" y="187.0" width="3.0" height="3.0"/><rect x="145.9" y="191.4" width="3.0" height="3.0"/><rect x="115.1" y="174.2" width="3.0" height="3.0"/><rect x="134.2" y="186.2" width="3.0" height="3.0"/><rect x="132.7" y="182.1" width="3.0" height="3.0"/><rect x="138.8" y="170.4" width="3.0" height="3.0"/><rect x="122.8" y="183.3" width="3.0" height="3.0"/><rect x="147.5" y="191.1" width="3.0" height="3.0"/><rect x="123.9" y="157.4" width="3.0" height="3.0"/><rect x="132.5" y="165.6" width="3.0" height="3.0"/><rect x="93.7" y="140.6" width="3.0" height="3.0"/><rect x="114.4" y="164.8" width="3.0" height="3.0"/><rect x="116.0" y="186.1" width="3.0" height="3.0"/><rect x="144.9" y="206.6" width="3.0" height="3.0"/><rect x="119.7" y="187.7" width="3.0" height="3.0"/><rect x="129.8" y="168.4" width="3.0" height="3.0"/><rect x="118.4" y="177.2" width="3.0" height="3.0"/><rect x="124.5" y="179.5" width="3.0" height="3.0"/><rect x="152.6" y="169.7" width="3.0" height="3.0"/><rect x="107.5" y="166.4" width="3.0" height="3.0"/><rect x="125.4" y="174.5" width="3.0" height="3.0"/><rect x="113.0" y="155.6" width="3.0" height="3.0"/><rect x="142.5" y="187.1" width="3.0" height="3.0"/><rect x="116.7" y="146.2" width="3.0" height="3.0"/><rect x="111.5" y="151.6" width="3.0" height="3.0"/><rect x="139.6" y="204.4" width="3.0" height="3.0"/><rect x="139.2" y="168.6" width="3.0" height="3.0"/><rect x="128.5" y="189.4" width="3.0" height="3.0"/><rect x="110.0" y="153.2" width="3.0" height="3.0"/><rect x="116.3" y="174.9" width="3.0" height="3.0"/><rect x="137.6" y="190.0" width="3.0" height="3.0"/><rect x="132.8" y="173.1" width="3.0" height="3.0"/><rect x="136.9" y="185.3" width="3.0" height="3.0"/><rect x="131.9" y="171.9" width="3.0" height="3.0"/><rect x="128.5" y="191.9" width="3.0" height="3.0"/><rect x="118.5" y="179.4" width="3.0" height="3.0"/><rect x="102.8" y="160.5" width="3.0" height="3.0"/><rect x="93.4" y="132.0" width="3.0" height="3.0"/><rect x="116.2" y="160.5" width="3.0" height="3.0"/><rect x="83.4" y="157.5" width="3.0" height="3.0"/><rect x="170.3" y="202.5" width="3.0" height="3.0"/><rect x="111.1" y="171.0" width="3.0" height="3.0"/><rect x="115.8" y="163.5" width="3.0" height="3.0"/><rect x="115.8" y="173.6" width="3.0" height="3.0"/><rect x="148.4" y="190.7" width="3.0" height="3.0"/><rect x="132.7" y="180.1" width="3.0" height="3.0"/><rect x="148.0" y="175.8" width="3.0" height="3.0"/><rect x="99.6" y="143.1" width="3.0" height="3.0"/><rect x="88.1" y="158.8" width="3.0" height="3.0"/><rect x="116.4" y="158.0" width="3.0" height="3.0"/><rect x="121.8" y="159.0" width="3.0" height="3.0"/><rect x="100.9" y="133.5" width="3.0" height="3.0"/><rect x="105.0" y="143.6" width="3.0" height="3.0"/><rect x="141.7" y="188.7" width="3.0" height="3.0"/><rect x="136.8" y="159.7" width="3.0" height="3.0"/><rect x="114.7" y="164.6" width="3.0" height="3.0"/><rect x="140.9" y="178.4" width="3.0" height="3.0"/><rect x="148.5" y="200.3" width="3.0" height="3.0"/><rect x="135.3" y="206.4" width="3.0" height="3.0"/><rect x="167.5" y="209.5" width="3.0" height="3.0"/><rect x="109.6" y="141.6" width="3.0" height="3.0"/><rect x="130.6" y="166.1" width="3.0" height="3.0"/><rect x="157.3" y="187.6" width="3.0" height="3.0"/><rect x="97.6" y="175.3" width="3.0" height="3.0"/><rect x="136.0" y="189.4" width="3.0" height="3.0"/><rect x="100.0" y="131.5" width="3.0" height="3.0"/><rect x="147.2" y="202.5" width="3.0" height="3.0"/><rect x="155.8" y="213.5" width="3.0" height="3.0"/><rect x="108.5" y="159.8" width="3.0" height="3.0"/><rect x="114.2" y="136.3" width="3.0" height="3.0"/><rect x="145.4" y="183.1" width="3.0" height="3.0"/><rect x="144.7" y="196.3" width="3.0" height="3.0"/><rect x="98.7" y="131.9" width="3.0" height="3.0"/><rect x="117.8" y="150.2" width="3.0" height="3.0"/><rect x="124.3" y="159.6" width="3.0" height="3.0"/><rect x="154.7" y="193.3" width="3.0" height="3.0"/><rect x="139.0" y="206.1" width="3.0" height="3.0"/><rect x="133.1" y="206.7" width="3.0" height="3.0"/><rect x="98.7" y="171.5" width="3.0" height="3.0"/><rect x="140.3" y="210.2" width="3.0" height="3.0"/><rect x="96.3" y="158.0" width="3.0" height="3.0"/><rect x="91.8" y="155.1" width="3.0" height="3.0"/><rect x="119.0" y="167.5" width="3.0" height="3.0"/><rect x="123.1" y="172.1" width="3.0" height="3.0"/><rect x="110.1" y="161.7" width="3.0" height="3.0"/><rect x="131.1" y="155.1" width="3.0" height="3.0"/><rect x="93.1" y="130.1" width="3.0" height="3.0"/><rect x="148.1" y="203.1" width="3.0" height="3.0"/><rect x="99.5" y="136.5" width="3.0" height="3.0"/><rect x="85.6" y="143.2" width="3.0" height="3.0"/><rect x="120.3" y="157.7" width="3.0" height="3.0"/><rect x="135.9" y="155.4" width="3.0" height="3.0"/><rect x="115.2" y="192.9" width="3.0" height="3.0"/><rect x="99.6" y="160.2" width="3.0" height="3.0"/><rect x="83.2" y="137.5" width="3.0" height="3.0"/><rect x="100.7" y="175.7" width="3.0" height="3.0"/><rect x="83.0" y="136.3" width="3.0" height="3.0"/><rect x="132.4" y="204.0" width="3.0" height="3.0"/><rect x="155.2" y="185.8" width="3.0" height="3.0"/><rect x="115.3" y="145.0" width="3.0" height="3.0"/><rect x="138.2" y="170.8" width="3.0" height="3.0"/><rect x="156.8" y="180.6" width="3.0" height="3.0"/><rect x="102.1" y="152.1" width="3.0" height="3.0"/><rect x="133.2" y="198.7" width="3.0" height="3.0"/><rect x="127.3" y="143.7" width="3.0" height="3.0"/><rect x="135.6" y="178.7" width="3.0" height="3.0"/><rect x="94.7" y="171.6" width="3.0" height="3.0"/><rect x="110.3" y="144.7" width="3.0" height="3.0"/><rect x="91.8" y="139.8" width="3.0" height="3.0"/><rect x="168.7" y="195.1" width="3.0" height="3.0"/><rect x="85.7" y="160.7" width="3.0" height="3.0"/><rect x="119.1" y="154.3" width="3.0" height="3.0"/><rect x="137.8" y="168.0" width="3.0" height="3.0"/><rect x="123.7" y="159.1" width="3.0" height="3.0"/><rect x="118.1" y="183.4" width="3.0" height="3.0"/><rect x="106.4" y="167.3" width="3.0" height="3.0"/><rect x="130.8" y="149.0" width="3.0" height="3.0"/><rect x="121.5" y="171.3" width="3.0" height="3.0"/><rect x="130.9" y="157.8" width="3.0" height="3.0"/><rect x="104.6" y="177.0" width="3.0" height="3.0"/><rect x="131.3" y="161.7" width="3.0" height="3.0"/><rect x="104.6" y="184.1" width="3.0" height="3.0"/><rect x="157.5" y="189.8" width="3.0" height="3.0"/><rect x="87.7" y="139.1" width="3.0" height="3.0"/><rect x="97.8" y="161.4" width="3.0" height="3.0"/><rect x="109.6" y="178.7" width="3.0" height="3.0"/><rect x="83.6" y="132.4" width="3.0" height="3.0"/><rect x="104.2" y="149.7" width="3.0" height="3.0"/><rect x="145.7" y="164.7" width="3.0" height="3.0"/><rect x="125.3" y="176.0" width="3.0" height="3.0"/><rect x="138.8" y="173.2" width="3.0" height="3.0"/><rect x="170.3" y="207.0" width="3.0" height="3.0"/><rect x="121.5" y="176.9" width="3.0" height="3.0"/><rect x="120.0" y="180.0" width="3.0" height="3.0"/><rect x="100.6" y="180.1" width="3.0" height="3.0"/><rect x="119.3" y="140.4" width="3.0" height="3.0"/><rect x="84.2" y="139.7" width="3.0" height="3.0"/><rect x="140.5" y="196.1" width="3.0" height="3.0"/><rect x="138.2" y="198.5" width="3.0" height="3.0"/><rect x="156.7" y="203.3" width="3.0" height="3.0"/><rect x="148.1" y="165.8" width="3.0" height="3.0"/><rect x="137.9" y="178.5" width="3.0" height="3.0"/><rect x="96.0" y="138.1" width="3.0" height="3.0"/><rect x="142.7" y="161.5" width="3.0" height="3.0"/><rect x="84.6" y="138.9" width="3.0" height="3.0"/><rect x="123.0" y="174.8" width="3.0" height="3.0"/><rect x="151.2" y="168.0" width="3.0" height="3.0"/><rect x="104.7" y="185.5" width="3.0" height="3.0"/><rect x="114.2" y="190.3" width="3.0" height="3.0"/><rect x="114.9" y="170.2" width="3.0" height="3.0"/><rect x="142.3" y="200.4" width="3.0" height="3.0"/><rect x="125.5" y="181.8" width="3.0" height="3.0"/><rect x="139.1" y="194.3" width="3.0" height="3.0"/><rect x="116.4" y="173.3" width="3.0" height="3.0"/><rect x="150.9" y="179.9" width="3.0" height="3.0"/><rect x="126.3" y="155.0" width="3.0" height="3.0"/><rect x="110.3" y="157.1" width="3.0" height="3.0"/><rect x="90.9" y="154.5" width="3.0" height="3.0"/><rect x="79.1" y="145.2" width="3.0" height="3.0"/><rect x="160.0" y="189.0" width="3.0" height="3.0"/><rect x="111.5" y="163.9" width="3.0" height="3.0"/><rect x="109.9" y="188.6" width="3.0" height="3.0"/><rect x="162.1" y="199.3" width="3.0" height="3.0"/><rect x="107.3" y="135.8" width="3.0" height="3.0"/><rect x="137.5" y="197.5" width="3.0" height="3.0"/><rect x="158.1" y="205.3" width="3.0" height="3.0"/><rect x="95.5" y="170.2" width="3.0" height="3.0"/><rect x="145.2" y="213.3" width="3.0" height="3.0"/><rect x="83.4" y="153.5" width="3.0" height="3.0"/><rect x="114.9" y="183.0" width="3.0" height="3.0"/><rect x="152.6" y="199.2" width="3.0" height="3.0"/><rect x="126.9" y="187.6" width="3.0" height="3.0"/><rect x="94.1" y="158.7" width="3.0" height="3.0"/><rect x="129.9" y="167.2" width="3.0" height="3.0"/><rect x="88.5" y="159.4" width="3.0" height="3.0"/><rect x="158.5" y="176.3" width="3.0" height="3.0"/><rect x="135.3" y="200.6" width="3.0" height="3.0"/><rect x="153.1" y="170.8" width="3.0" height="3.0"/><rect x="136.6" y="184.4" width="3.0" height="3.0"/><rect x="126.1" y="168.6" width="3.0" height="3.0"/><rect x="164.8" y="200.7" width="3.0" height="3.0"/><rect x="119.4" y="144.6" width="3.0" height="3.0"/><rect x="138.6" y="187.5" width="3.0" height="3.0"/><rect x="120.0" y="153.6" width="3.0" height="3.0"/><rect x="146.0" y="170.0" width="3.0" height="3.0"/><rect x="138.1" y="169.6" width="3.0" height="3.0"/><rect x="104.6" y="146.1" width="3.0" height="3.0"/><rect x="88.8" y="149.2" width="3.0" height="3.0"/><rect x="109.8" y="191.8" width="3.0" height="3.0"/><rect x="103.5" y="132.9" width="3.0" height="3.0"/><rect x="131.9" y="169.4" width="3.0" height="3.0"/><rect x="114.2" y="160.3" width="3.0" height="3.0"/><rect x="147.0" y="207.4" width="3.0" height="3.0"/><rect x="96.7" y="155.0" width="3.0" height="3.0"/><rect x="169.5" y="200.0" width="3.0" height="3.0"/><rect x="110.7" y="182.1" width="3.0" height="3.0"/><rect x="121.1" y="179.1" width="3.0" height="3.0"/><rect x="122.2" y="190.4" width="3.0" height="3.0"/><rect x="114.6" y="178.7" width="3.0" height="3.0"/><rect x="101.9" y="131.1" width="3.0" height="3.0"/><rect x="126.4" y="169.4" width="3.0" height="3.0"/><rect x="144.2" y="210.0" width="3.0" height="3.0"/><rect x="90.7" y="155.5" width="3.0" height="3.0"/><rect x="97.3" y="134.5" width="3.0" height="3.0"/><rect x="109.9" y="146.3" width="3.0" height="3.0"/><rect x="158.8" y="185.2" width="3.0" height="3.0"/><rect x="87.4" y="151.4" width="3.0" height="3.0"/><rect x="91.3" y="165.1" width="3.0" height="3.0"/><rect x="152.8" y="186.7" width="3.0" height="3.0"/><rect x="166.2" y="193.3" width="3.0" height="3.0"/><rect x="137.8" y="201.7" width="3.0" height="3.0"/><rect x="152.7" y="173.2" width="3.0" height="3.0"/><rect x="130.9" y="207.4" width="3.0" height="3.0"/><rect x="163.0" y="201.1" width="3.0" height="3.0"/><rect x="83.3" y="140.7" width="3.0" height="3.0"/><rect x="90.1" y="157.1" width="3.0" height="3.0"/><rect x="147.0" y="192.0" width="3.0" height="3.0"/><rect x="136.2" y="185.0" width="3.0" height="3.0"/><rect x="120.9" y="173.5" width="3.0" height="3.0"/><rect x="102.1" y="179.5" width="3.0" height="3.0"/><rect x="105.0" y="181.0" width="3.0" height="3.0"/><rect x="156.6" y="186.0" width="3.0" height="3.0"/><rect x="155.0" y="208.0" width="3.0" height="3.0"/><rect x="142.8" y="186.8" width="3.0" height="3.0"/><rect x="137.4" y="199.0" width="3.0" height="3.0"/><rect x="98.2" y="153.8" width="3.0" height="3.0"/><rect x="143.6" y="197.4" width="3.0" height="3.0"/><rect x="169.0" y="201.8" width="3.0" height="3.0"/><rect x="104.3" y="179.7" width="3.0" height="3.0"/><rect x="107.4" y="135.5" width="3.0" height="3.0"/><rect x="130.5" y="163.3" width="3.0" height="3.0"/><rect x="147.3" y="189.0" width="3.0" height="3.0"/><rect x="126.1" y="180.9" width="3.0" height="3.0"/><rect x="111.0" y="154.4" width="3.0" height="3.0"/><rect x="161.6" y="202.0" width="3.0" height="3.0"/><rect x="154.2" y="201.7" width="3.0" height="3.0"/><rect x="102.9" y="163.2" width="3.0" height="3.0"/><rect x="135.6" y="195.7" width="3.0" height="3.0"/><rect x="109.6" y="154.6" width="3.0" height="3.0"/><rect x="161.3" y="205.8" width="3.0" height="3.0"/><rect x="105.5" y="144.2" width="3.0" height="3.0"/><rect x="124.3" y="158.2" width="3.0" height="3.0"/><rect x="157.9" y="181.5" width="3.0" height="3.0"/><rect x="142.2" y="163.3" width="3.0" height="3.0"/><rect x="159.7" y="189.1" width="3.0" height="3.0"/><rect x="139.4" y="155.4" width="3.0" height="3.0"/><rect x="119.7" y="176.9" width="3.0" height="3.0"/><rect x="119.9" y="139.9" width="3.0" height="3.0"/><rect x="158.0" y="215.8" width="3.0" height="3.0"/><rect x="147.2" y="168.0" width="3.0" height="3.0"/><rect x="116.8" y="181.8" width="3.0" height="3.0"/><rect x="114.4" y="141.5" width="3.0" height="3.0"/><rect x="155.3" y="195.6" width="3.0" height="3.0"/><rect x="106.6" y="148.5" width="3.0" height="3.0"/><rect x="131.3" y="177.8" width="3.0" height="3.0"/><rect x="157.7" y="206.1" width="3.0" height="3.0"/><rect x="90.4" y="163.4" width="3.0" height="3.0"/><rect x="161.9" y="192.6" width="3.0" height="3.0"/><rect x="143.8" y="168.4" width="3.0" height="3.0"/><rect x="87.5" y="141.8" width="3.0" height="3.0"/><rect x="131.9" y="163.4" width="3.0" height="3.0"/><rect x="158.3" y="202.0" width="3.0" height="3.0"/><rect x="151.1" y="204.4" width="3.0" height="3.0"/><rect x="117.7" y="178.1" width="3.0" height="3.0"/><rect x="86.1" y="134.7" width="3.0" height="3.0"/><rect x="158.5" y="208.9" width="3.0" height="3.0"/><rect x="122.1" y="162.5" width="3.0" height="3.0"/><rect x="83.5" y="144.3" width="3.0" height="3.0"/><rect x="101.1" y="141.6" width="3.0" height="3.0"/><rect x="104.3" y="176.4" width="3.0" height="3.0"/><rect x="158.9" y="177.7" width="3.0" height="3.0"/><rect x="146.9" y="171.5" width="3.0" height="3.0"/><rect x="134.3" y="202.8" width="3.0" height="3.0"/><rect x="146.7" y="167.2" width="3.0" height="3.0"/><rect x="149.0" y="197.4" width="3.0" height="3.0"/><rect x="120.9" y="161.9" width="3.0" height="3.0"/><rect x="159.2" y="190.3" width="3.0" height="3.0"/><rect x="120.6" y="183.1" width="3.0" height="3.0"/><rect x="111.2" y="182.9" width="3.0" height="3.0"/><rect x="133.6" y="149.3" width="3.0" height="3.0"/><rect x="122.2" y="156.1" width="3.0" height="3.0"/><rect x="106.0" y="163.8" width="3.0" height="3.0"/><rect x="150.9" y="207.9" width="3.0" height="3.0"/><rect x="129.4" y="178.8" width="3.0" height="3.0"/></g><g class="r"><rect x="132.5" y="189.2" width="3.0" height="3.0"/><rect x="152.6" y="193.6" width="3.0" height="3.0"/><rect x="122.0" y="180.8" width="3.0" height="3.0"/><rect x="120.7" y="169.5" width="3.0" height="3.0"/><rect x="134.7" y="179.3" width="3.0" height="3.0"/><rect x="123.8" y="180.0" width="3.0" height="3.0"/><rect x="122.1" y="183.2" width="3.0" height="3.0"/><rect x="145.5" y="209.8" width="3.0" height="3.0"/><rect x="121.2" y="183.8" width="3.0" height="3.0"/><rect x="119.3" y="177.4" width="3.0" height="3.0"/><rect x="107.7" y="142.7" width="3.0" height="3.0"/><rect x="127.7" y="169.3" width="3.0" height="3.0"/><rect x="137.3" y="155.6" width="3.0" height="3.0"/><rect x="132.4" y="172.8" width="3.0" height="3.0"/><rect x="142.0" y="183.5" width="3.0" height="3.0"/><rect x="141.4" y="208.8" width="3.0" height="3.0"/><rect x="105.0" y="179.6" width="3.0" height="3.0"/><rect x="151.4" y="177.2" width="3.0" height="3.0"/><rect x="136.6" y="154.0" width="3.0" height="3.0"/><rect x="129.6" y="162.6" width="3.0" height="3.0"/><rect x="131.0" y="179.6" width="3.0" height="3.0"/><rect x="111.7" y="186.1" width="3.0" height="3.0"/><rect x="127.8" y="151.2" width="3.0" height="3.0"/><rect x="122.5" y="145.0" width="3.0" height="3.0"/><rect x="136.4" y="160.6" width="3.0" height="3.0"/><rect x="130.5" y="196.3" width="3.0" height="3.0"/><rect x="142.0" y="176.1" width="3.0" height="3.0"/><rect x="139.4" y="178.9" width="3.0" height="3.0"/><rect x="113.7" y="138.6" width="3.0" height="3.0"/><rect x="143.2" y="197.2" width="3.0" height="3.0"/><rect x="156.8" y="195.7" width="3.0" height="3.0"/><rect x="109.2" y="153.2" width="3.0" height="3.0"/><rect x="141.4" y="174.4" width="3.0" height="3.0"/><rect x="147.6" y="182.6" width="3.0" height="3.0"/><rect x="115.5" y="179.7" width="3.0" height="3.0"/><rect x="116.6" y="151.5" width="3.0" height="3.0"/><rect x="134.2" y="189.8" width="3.0" height="3.0"/><rect x="161.1" y="198.8" width="3.0" height="3.0"/><rect x="142.3" y="168.6" width="3.0" height="3.0"/><rect x="141.4" y="191.4" width="3.0" height="3.0"/><rect x="162.5" y="192.4" width="3.0" height="3.0"/><rect x="138.0" y="183.6" width="3.0" height="3.0"/><rect x="141.7" y="203.6" width="3.0" height="3.0"/><rect x="135.3" y="175.2" width="3.0" height="3.0"/><rect x="139.6" y="172.8" width="3.0" height="3.0"/><rect x="134.9" y="197.7" width="3.0" height="3.0"/><rect x="125.8" y="168.0" width="3.0" height="3.0"/><rect x="117.8" y="150.0" width="3.0" height="3.0"/><rect x="117.9" y="161.9" width="3.0" height="3.0"/><rect x="136.7" y="193.1" width="3.0" height="3.0"/><rect x="147.5" y="202.3" width="3.0" height="3.0"/><rect x="139.6" y="190.2" width="3.0" height="3.0"/><rect x="101.4" y="153.9" width="3.0" height="3.0"/><rect x="138.6" y="182.1" width="3.0" height="3.0"/><rect x="144.1" y="169.1" width="3.0" height="3.0"/><rect x="146.3" y="191.1" width="3.0" height="3.0"/><rect x="134.2" y="149.4" width="3.0" height="3.0"/><rect x="125.8" y="177.6" width="3.0" height="3.0"/><rect x="135.1" y="162.6" width="3.0" height="3.0"/><rect x="121.8" y="145.6" width="3.0" height="3.0"/><rect x="105.3" y="174.4" width="3.0" height="3.0"/><rect x="160.0" y="208.3" width="3.0" height="3.0"/><rect x="122.0" y="169.0" width="3.0" height="3.0"/><rect x="143.9" y="182.7" width="3.0" height="3.0"/><rect x="150.6" y="196.7" width="3.0" height="3.0"/><rect x="125.6" y="158.3" width="3.0" height="3.0"/><rect x="147.9" y="184.1" width="3.0" height="3.0"/><rect x="128.7" y="173.1" width="3.0" height="3.0"/><rect x="130.2" y="174.8" width="3.0" height="3.0"/><rect x="107.6" y="173.6" width="3.0" height="3.0"/><rect x="151.8" y="191.6" width="3.0" height="3.0"/><rect x="123.9" y="181.3" width="3.0" height="3.0"/><rect x="101.1" y="136.4" width="3.0" height="3.0"/><rect x="98.7" y="164.4" width="3.0" height="3.0"/><rect x="132.1" y="198.7" width="3.0" height="3.0"/><rect x="145.1" y="195.9" width="3.0" height="3.0"/><rect x="97.4" y="143.5" width="3.0" height="3.0"/><rect x="119.9" y="176.6" width="3.0" height="3.0"/><rect x="140.9" y="197.0" width="3.0" height="3.0"/><rect x="134.2" y="188.9" width="3.0" height="3.0"/><rect x="99.5" y="145.8" width="3.0" height="3.0"/><rect x="146.9" y="182.6" width="3.0" height="3.0"/><rect x="131.2" y="167.9" width="3.0" height="3.0"/><rect x="157.5" y="206.3" width="3.0" height="3.0"/><rect x="148.3" y="185.9" width="3.0" height="3.0"/><rect x="99.1" y="161.0" width="3.0" height="3.0"/><rect x="145.1" y="184.3" width="3.0" height="3.0"/><rect x="91.4" y="152.0" width="3.0" height="3.0"/><rect x="155.8" y="173.0" width="3.0" height="3.0"/><rect x="117.6" y="169.1" width="3.0" height="3.0"/><rect x="121.3" y="185.0" width="3.0" height="3.0"/><rect x="160.6" y="198.5" width="3.0" height="3.0"/><rect x="141.2" y="161.7" width="3.0" height="3.0"/><rect x="150.5" y="165.6" width="3.0" height="3.0"/><rect x="147.1" y="163.2" width="3.0" height="3.0"/><rect x="110.9" y="153.5" width="3.0" height="3.0"/><rect x="117.0" y="182.7" width="3.0" height="3.0"/><rect x="137.2" y="155.2" width="3.0" height="3.0"/><rect x="123.2" y="137.4" width="3.0" height="3.0"/><rect x="150.4" y="163.1" width="3.0" height="3.0"/><rect x="157.9" y="210.5" width="3.0" height="3.0"/><rect x="157.7" y="194.8" width="3.0" height="3.0"/><rect x="123.7" y="155.1" width="3.0" height="3.0"/><rect x="133.1" y="176.9" width="3.0" height="3.0"/><rect x="141.6" y="167.1" width="3.0" height="3.0"/><rect x="163.8" y="187.3" width="3.0" height="3.0"/><rect x="129.3" y="182.9" width="3.0" height="3.0"/><rect x="153.8" y="199.1" width="3.0" height="3.0"/><rect x="100.0" y="132.9" width="3.0" height="3.0"/><rect x="163.4" y="199.9" width="3.0" height="3.0"/><rect x="122.6" y="154.8" width="3.0" height="3.0"/><rect x="138.9" y="192.4" width="3.0" height="3.0"/><rect x="158.7" y="206.0" width="3.0" height="3.0"/><rect x="149.0" y="187.9" width="3.0" height="3.0"/><rect x="138.8" y="197.3" width="3.0" height="3.0"/><rect x="104.6" y="149.1" width="3.0" height="3.0"/><rect x="102.1" y="177.2" width="3.0" height="3.0"/><rect x="131.1" y="171.5" width="3.0" height="3.0"/><rect x="166.7" y="202.9" width="3.0" height="3.0"/><rect x="159.7" y="184.9" width="3.0" height="3.0"/><rect x="96.4" y="162.1" width="3.0" height="3.0"/><rect x="121.3" y="176.7" width="3.0" height="3.0"/><rect x="119.6" y="149.5" width="3.0" height="3.0"/><rect x="97.1" y="161.9" width="3.0" height="3.0"/><rect x="131.0" y="169.7" width="3.0" height="3.0"/><rect x="113.6" y="170.4" width="3.0" height="3.0"/><rect x="131.3" y="167.6" width="3.0" height="3.0"/><rect x="86.4" y="145.5" width="3.0" height="3.0"/><rect x="142.2" y="175.6" width="3.0" height="3.0"/><rect x="160.0" y="186.1" width="3.0" height="3.0"/><rect x="107.3" y="163.1" width="3.0" height="3.0"/><rect x="134.1" y="178.2" width="3.0" height="3.0"/><rect x="143.8" y="170.8" width="3.0" height="3.0"/><rect x="149.1" y="185.3" width="3.0" height="3.0"/><rect x="101.6" y="170.2" width="3.0" height="3.0"/><rect x="160.2" y="197.7" width="3.0" height="3.0"/><rect x="149.4" y="205.1" width="3.0" height="3.0"/><rect x="135.5" y="156.0" width="3.0" height="3.0"/><rect x="127.7" y="151.9" width="3.0" height="3.0"/><rect x="101.5" y="181.1" width="3.0" height="3.0"/><rect x="122.2" y="166.4" width="3.0" height="3.0"/><rect x="106.0" y="150.5" width="3.0" height="3.0"/><rect x="97.9" y="145.7" width="3.0" height="3.0"/><rect x="132.3" y="183.3" width="3.0" height="3.0"/><rect x="147.3" y="186.1" width="3.0" height="3.0"/><rect x="133.1" y="189.1" width="3.0" height="3.0"/><rect x="161.9" y="203.2" width="3.0" height="3.0"/><rect x="121.2" y="192.4" width="3.0" height="3.0"/><rect x="109.5" y="147.1" width="3.0" height="3.0"/><rect x="142.6" y="176.9" width="3.0" height="3.0"/><rect x="74.7" y="95.3" width="3.0" height="3.0"/><rect x="92.6" y="107.0" width="3.0" height="3.0"/><rect x="192.2" y="209.0" width="3.0" height="3.0"/><rect x="181.0" y="205.1" width="3.0" height="3.0"/><rect x="100.8" y="137.0" width="3.0" height="3.0"/><rect x="75.2" y="156.6" width="3.0" height="3.0"/></g><g class="g2"><rect x="119.7" y="152.8" width="3.0" height="3.0"/><rect x="110.9" y="154.1" width="3.0" height="3.0"/><rect x="117.7" y="152.9" width="3.0" height="3.0"/><rect x="116.4" y="170.4" width="3.0" height="3.0"/><rect x="130.3" y="162.2" width="3.0" height="3.0"/><rect x="125.9" y="174.9" width="3.0" height="3.0"/><rect x="144.9" y="178.4" width="3.0" height="3.0"/><rect x="126.9" y="163.0" width="3.0" height="3.0"/><rect x="123.5" y="157.4" width="3.0" height="3.0"/><rect x="146.2" y="185.7" width="3.0" height="3.0"/><rect x="114.3" y="150.0" width="3.0" height="3.0"/><rect x="124.0" y="170.3" width="3.0" height="3.0"/><rect x="129.5" y="183.6" width="3.0" height="3.0"/><rect x="121.4" y="169.1" width="3.0" height="3.0"/><rect x="148.9" y="180.2" width="3.0" height="3.0"/><rect x="152.6" y="197.7" width="3.0" height="3.0"/><rect x="124.1" y="174.5" width="3.0" height="3.0"/><rect x="111.7" y="152.5" width="3.0" height="3.0"/><rect x="125.7" y="173.9" width="3.0" height="3.0"/><rect x="113.8" y="149.8" width="3.0" height="3.0"/><rect x="120.0" y="161.6" width="3.0" height="3.0"/><rect x="124.7" y="176.0" width="3.0" height="3.0"/><rect x="137.3" y="173.4" width="3.0" height="3.0"/><rect x="118.7" y="162.1" width="3.0" height="3.0"/><rect x="128.1" y="171.5" width="3.0" height="3.0"/><rect x="121.8" y="162.5" width="3.0" height="3.0"/><rect x="115.8" y="162.8" width="3.0" height="3.0"/><rect x="105.2" y="158.6" width="3.0" height="3.0"/><rect x="117.6" y="159.4" width="3.0" height="3.0"/><rect x="126.4" y="165.6" width="3.0" height="3.0"/><rect x="98.4" y="138.2" width="3.0" height="3.0"/><rect x="113.8" y="168.7" width="3.0" height="3.0"/><rect x="141.7" y="180.4" width="3.0" height="3.0"/><rect x="133.1" y="169.5" width="3.0" height="3.0"/><rect x="139.5" y="180.6" width="3.0" height="3.0"/><rect x="109.3" y="158.4" width="3.0" height="3.0"/><rect x="124.5" y="169.0" width="3.0" height="3.0"/><rect x="138.0" y="189.5" width="3.0" height="3.0"/><rect x="125.5" y="160.4" width="3.0" height="3.0"/><rect x="123.8" y="166.3" width="3.0" height="3.0"/><rect x="134.2" y="170.8" width="3.0" height="3.0"/><rect x="135.5" y="172.6" width="3.0" height="3.0"/><rect x="118.9" y="165.8" width="3.0" height="3.0"/><rect x="122.6" y="165.1" width="3.0" height="3.0"/><rect x="120.1" y="181.6" width="3.0" height="3.0"/><rect x="137.8" y="193.6" width="3.0" height="3.0"/><rect x="121.2" y="165.7" width="3.0" height="3.0"/><rect x="130.8" y="173.7" width="3.0" height="3.0"/><rect x="142.4" y="176.3" width="3.0" height="3.0"/><rect x="133.1" y="163.9" width="3.0" height="3.0"/><rect x="112.0" y="164.7" width="3.0" height="3.0"/><rect x="164.9" y="199.4" width="3.0" height="3.0"/><rect x="121.4" y="167.2" width="3.0" height="3.0"/><rect x="122.0" y="169.7" width="3.0" height="3.0"/><rect x="114.0" y="164.7" width="3.0" height="3.0"/><rect x="107.5" y="150.4" width="3.0" height="3.0"/><rect x="123.5" y="153.7" width="3.0" height="3.0"/><rect x="131.4" y="165.8" width="3.0" height="3.0"/><rect x="101.3" y="163.7" width="3.0" height="3.0"/><rect x="125.2" y="158.3" width="3.0" height="3.0"/><rect x="125.8" y="170.5" width="3.0" height="3.0"/><rect x="118.2" y="171.4" width="3.0" height="3.0"/><rect x="127.0" y="148.6" width="3.0" height="3.0"/><rect x="113.8" y="152.8" width="3.0" height="3.0"/><rect x="124.1" y="180.7" width="3.0" height="3.0"/><rect x="133.3" y="166.6" width="3.0" height="3.0"/><rect x="137.4" y="183.4" width="3.0" height="3.0"/><rect x="109.6" y="165.5" width="3.0" height="3.0"/><rect x="128.5" y="169.1" width="3.0" height="3.0"/><rect x="111.1" y="150.2" width="3.0" height="3.0"/><rect x="109.7" y="154.7" width="3.0" height="3.0"/><rect x="123.5" y="165.7" width="3.0" height="3.0"/><rect x="124.0" y="164.2" width="3.0" height="3.0"/><rect x="132.0" y="175.8" width="3.0" height="3.0"/><rect x="129.8" y="177.2" width="3.0" height="3.0"/><rect x="125.1" y="167.2" width="3.0" height="3.0"/><rect x="127.7" y="170.4" width="3.0" height="3.0"/><rect x="108.0" y="150.7" width="3.0" height="3.0"/><rect x="131.8" y="174.3" width="3.0" height="3.0"/><rect x="119.3" y="161.4" width="3.0" height="3.0"/><rect x="127.4" y="169.7" width="3.0" height="3.0"/><rect x="121.5" y="169.0" width="3.0" height="3.0"/><rect x="127.6" y="158.0" width="3.0" height="3.0"/><rect x="146.5" y="170.1" width="3.0" height="3.0"/><rect x="112.3" y="165.1" width="3.0" height="3.0"/><rect x="111.6" y="156.0" width="3.0" height="3.0"/><rect x="113.9" y="156.9" width="3.0" height="3.0"/><rect x="132.6" y="164.4" width="3.0" height="3.0"/><rect x="134.9" y="175.1" width="3.0" height="3.0"/><rect x="108.8" y="166.0" width="3.0" height="3.0"/><rect x="127.8" y="175.6" width="3.0" height="3.0"/><rect x="125.5" y="163.2" width="3.0" height="3.0"/><rect x="144.7" y="184.4" width="3.0" height="3.0"/><rect x="140.1" y="183.1" width="3.0" height="3.0"/><rect x="127.0" y="169.9" width="3.0" height="3.0"/><rect x="124.4" y="172.8" width="3.0" height="3.0"/><rect x="130.0" y="182.5" width="3.0" height="3.0"/><rect x="140.7" y="187.1" width="3.0" height="3.0"/><rect x="124.5" y="162.0" width="3.0" height="3.0"/><rect x="137.5" y="188.5" width="3.0" height="3.0"/><rect x="128.0" y="179.4" width="3.0" height="3.0"/><rect x="117.5" y="161.0" width="3.0" height="3.0"/><rect x="120.6" y="173.1" width="3.0" height="3.0"/><rect x="125.3" y="161.5" width="3.0" height="3.0"/><rect x="120.9" y="169.6" width="3.0" height="3.0"/><rect x="122.1" y="167.8" width="3.0" height="3.0"/><rect x="126.8" y="170.3" width="3.0" height="3.0"/><rect x="140.0" y="173.4" width="3.0" height="3.0"/><rect x="116.8" y="154.8" width="3.0" height="3.0"/><rect x="129.2" y="160.9" width="3.0" height="3.0"/><rect x="126.9" y="164.3" width="3.0" height="3.0"/><rect x="100.7" y="133.9" width="3.0" height="3.0"/><rect x="130.1" y="183.0" width="3.0" height="3.0"/><rect x="123.0" y="149.0" width="3.0" height="3.0"/><rect x="118.7" y="169.9" width="3.0" height="3.0"/><rect x="133.7" y="184.7" width="3.0" height="3.0"/><rect x="134.2" y="170.8" width="3.0" height="3.0"/><rect x="130.2" y="171.1" width="3.0" height="3.0"/><rect x="128.7" y="192.6" width="3.0" height="3.0"/><rect x="132.5" y="171.0" width="3.0" height="3.0"/><rect x="117.0" y="159.9" width="3.0" height="3.0"/><rect x="113.2" y="154.1" width="3.0" height="3.0"/><rect x="121.1" y="165.9" width="3.0" height="3.0"/><rect x="124.2" y="166.6" width="3.0" height="3.0"/><rect x="118.7" y="176.8" width="3.0" height="3.0"/><rect x="133.8" y="174.2" width="3.0" height="3.0"/><rect x="125.8" y="175.0" width="3.0" height="3.0"/><rect x="117.1" y="168.6" width="3.0" height="3.0"/><rect x="136.7" y="184.3" width="3.0" height="3.0"/><rect x="127.8" y="169.9" width="3.0" height="3.0"/><rect x="131.8" y="159.8" width="3.0" height="3.0"/><rect x="121.7" y="166.9" width="3.0" height="3.0"/><rect x="139.0" y="183.8" width="3.0" height="3.0"/><rect x="111.7" y="151.4" width="3.0" height="3.0"/><rect x="120.2" y="162.1" width="3.0" height="3.0"/><rect x="136.6" y="174.1" width="3.0" height="3.0"/><rect x="123.2" y="178.4" width="3.0" height="3.0"/><rect x="120.1" y="157.9" width="3.0" height="3.0"/><rect x="115.9" y="158.2" width="3.0" height="3.0"/><rect x="129.7" y="178.1" width="3.0" height="3.0"/><rect x="140.3" y="172.6" width="3.0" height="3.0"/><rect x="120.3" y="148.5" width="3.0" height="3.0"/><rect x="126.2" y="157.6" width="3.0" height="3.0"/><rect x="126.0" y="168.7" width="3.0" height="3.0"/><rect x="138.4" y="165.3" width="3.0" height="3.0"/><rect x="126.1" y="170.2" width="3.0" height="3.0"/><rect x="133.8" y="178.3" width="3.0" height="3.0"/><rect x="118.4" y="156.0" width="3.0" height="3.0"/><rect x="127.3" y="162.0" width="3.0" height="3.0"/><rect x="118.5" y="167.7" width="3.0" height="3.0"/><rect x="97.3" y="146.8" width="3.0" height="3.0"/><rect x="114.7" y="170.1" width="3.0" height="3.0"/><rect x="129.8" y="183.7" width="3.0" height="3.0"/><rect x="132.7" y="172.4" width="3.0" height="3.0"/><rect x="113.4" y="158.6" width="3.0" height="3.0"/><rect x="118.4" y="149.7" width="3.0" height="3.0"/><rect x="124.5" y="164.3" width="3.0" height="3.0"/><rect x="135.5" y="164.6" width="3.0" height="3.0"/><rect x="115.0" y="160.2" width="3.0" height="3.0"/><rect x="139.9" y="174.2" width="3.0" height="3.0"/><rect x="127.1" y="183.6" width="3.0" height="3.0"/><rect x="127.2" y="168.9" width="3.0" height="3.0"/><rect x="120.0" y="164.0" width="3.0" height="3.0"/><rect x="119.4" y="169.6" width="3.0" height="3.0"/><rect x="117.9" y="169.1" width="3.0" height="3.0"/><rect x="135.8" y="181.8" width="3.0" height="3.0"/><rect x="127.6" y="173.2" width="3.0" height="3.0"/><rect x="127.8" y="167.1" width="3.0" height="3.0"/><rect x="124.0" y="176.4" width="3.0" height="3.0"/><rect x="135.2" y="170.0" width="3.0" height="3.0"/><rect x="114.9" y="166.7" width="3.0" height="3.0"/><rect x="126.7" y="172.4" width="3.0" height="3.0"/><rect x="133.4" y="177.0" width="3.0" height="3.0"/><rect x="110.7" y="160.7" width="3.0" height="3.0"/><rect x="124.3" y="166.4" width="3.0" height="3.0"/><rect x="138.7" y="187.1" width="3.0" height="3.0"/><rect x="115.8" y="168.4" width="3.0" height="3.0"/><rect x="103.9" y="149.6" width="3.0" height="3.0"/><rect x="120.2" y="154.8" width="3.0" height="3.0"/><rect x="109.5" y="159.9" width="3.0" height="3.0"/><rect x="108.8" y="157.5" width="3.0" height="3.0"/><rect x="114.0" y="170.0" width="3.0" height="3.0"/><rect x="128.1" y="178.4" width="3.0" height="3.0"/><rect x="117.5" y="154.8" width="3.0" height="3.0"/><rect x="133.5" y="182.6" width="3.0" height="3.0"/><rect x="120.7" y="170.0" width="3.0" height="3.0"/><rect x="121.6" y="159.4" width="3.0" height="3.0"/><rect x="116.5" y="169.8" width="3.0" height="3.0"/><rect x="128.9" y="171.5" width="3.0" height="3.0"/><rect x="131.6" y="183.7" width="3.0" height="3.0"/><rect x="111.7" y="143.6" width="3.0" height="3.0"/><rect x="113.4" y="164.5" width="3.0" height="3.0"/><rect x="131.2" y="173.3" width="3.0" height="3.0"/><rect x="137.5" y="176.7" width="3.0" height="3.0"/><rect x="120.0" y="169.7" width="3.0" height="3.0"/><rect x="119.6" y="171.0" width="3.0" height="3.0"/><rect x="127.3" y="162.3" width="3.0" height="3.0"/><rect x="105.6" y="158.5" width="3.0" height="3.0"/><rect x="123.5" y="183.0" width="3.0" height="3.0"/><rect x="119.3" y="164.6" width="3.0" height="3.0"/><rect x="116.7" y="139.5" width="3.0" height="3.0"/><rect x="136.4" y="188.1" width="3.0" height="3.0"/><rect x="130.5" y="167.8" width="3.0" height="3.0"/><rect x="107.9" y="155.2" width="3.0" height="3.0"/><rect x="139.0" y="179.5" width="3.0" height="3.0"/><rect x="108.7" y="167.0" width="3.0" height="3.0"/><rect x="142.0" y="190.4" width="3.0" height="3.0"/><rect x="135.1" y="166.1" width="3.0" height="3.0"/><rect x="132.4" y="164.4" width="3.0" height="3.0"/><rect x="122.4" y="180.6" width="3.0" height="3.0"/><rect x="116.0" y="166.5" width="3.0" height="3.0"/><rect x="117.0" y="164.0" width="3.0" height="3.0"/><rect x="119.8" y="154.3" width="3.0" height="3.0"/><rect x="123.9" y="175.8" width="3.0" height="3.0"/><rect x="132.8" y="174.6" width="3.0" height="3.0"/><rect x="106.2" y="162.2" width="3.0" height="3.0"/><rect x="133.2" y="171.9" width="3.0" height="3.0"/><rect x="117.4" y="163.8" width="3.0" height="3.0"/><rect x="127.8" y="178.0" width="3.0" height="3.0"/><rect x="118.4" y="163.4" width="3.0" height="3.0"/></g><ellipse cx="126.60" cy="174.50" rx="60.44" ry="24.64" transform="rotate(-136.69 126.60 174.50)" fill="none" stroke="#4030b0" stroke-width="1.3"/><ellipse cx="128.30" cy="173.20" rx="52.76" ry="25.75" transform="rotate(45.55 128.30 173.20)" fill="none" stroke="#a83068" stroke-width="1.3"/></g><rect x="30.3" y="30.5" width="213.9" height="228.4" fill="none" class="ax"/><line x1="31.50" y1="258.9" x2="31.50" y2="262.79999999999995" class="ax"/><line x1="85.50" y1="258.9" x2="85.50" y2="262.79999999999995" class="ax"/><line x1="139.50" y1="258.9" x2="139.50" y2="262.79999999999995" class="ax"/><line x1="193.50" y1="258.9" x2="193.50" y2="262.79999999999995" class="ax"/><line x1="30.3" y1="215.55" x2="26.3" y2="215.55" class="ax"/><line x1="30.3" y1="168.40" x2="26.3" y2="168.40" class="ax"/><line x1="30.3" y1="121.25" x2="26.3" y2="121.25" class="ax"/><line x1="30.3" y1="74.10" x2="26.3" y2="74.10" class="ax"/><rect x="290.3" y="30.5" width="213.9" height="228.4" fill="none" class="ax"/><line x1="291.50" y1="258.9" x2="291.50" y2="262.79999999999995" class="ax"/><line x1="345.50" y1="258.9" x2="345.50" y2="262.79999999999995" class="ax"/><line x1="399.50" y1="258.9" x2="399.50" y2="262.79999999999995" class="ax"/><line x1="453.50" y1="258.9" x2="453.50" y2="262.79999999999995" class="ax"/><line x1="290.3" y1="215.55" x2="286.3" y2="215.55" class="ax"/><line x1="290.3" y1="168.40" x2="286.3" y2="168.40" class="ax"/><line x1="290.3" y1="121.25" x2="286.3" y2="121.25" class="ax"/><line x1="290.3" y1="74.10" x2="286.3" y2="74.10" class="ax"/><rect x="30.3" y="30.5" width="57.4" height="29.8" fill="#fff" class="ax"/><rect x="34.40" y="36.40" width="2.8" height="2.8" fill="none" stroke="#7474b0" stroke-width="0.8"/><rect x="34.40" y="43.95" width="2.8" height="2.8" fill="none" stroke="#cc9098" stroke-width="0.8"/><rect x="34.40" y="51.50" width="2.8" height="2.8" fill="none" stroke="#a4d4a4" stroke-width="0.8"/><rect x="290.3" y="30.5" width="57.4" height="29.8" fill="#fff" class="ax"/><path d="M295.80 36.20 L297.40 37.80 L295.80 39.40 L294.20 37.80 Z" fill="none" stroke="#7474b0" stroke-width="0.8"/><path d="M295.80 43.75 L297.40 45.35 L295.80 46.95 L294.20 45.35 Z" fill="none" stroke="#cc9098" stroke-width="0.8"/><path d="M295.80 51.30 L297.40 52.90 L295.80 54.50 L294.20 52.90 Z" fill="none" stroke="#a4d4a4" stroke-width="0.8"/><g><text x="137.3" y="17.8" class="tt" text-anchor="middle">PCA : Unadjusted</text><text x="397.3" y="17.8" class="tt" text-anchor="middle">PCA : M-ComBat</text><text x="31.50" y="272.0" class="tk" text-anchor="middle">-400</text><text x="85.50" y="272.0" class="tk" text-anchor="middle">-200</text><text x="139.50" y="272.0" class="tk" text-anchor="middle">0</text><text x="193.50" y="272.0" class="tk" text-anchor="middle">200</text><text transform="translate(21.5 215.55) rotate(-90)" class="tk" text-anchor="middle">-100</text><text transform="translate(21.5 168.40) rotate(-90)" class="tk" text-anchor="middle">0</text><text transform="translate(21.5 121.25) rotate(-90)" class="tk" text-anchor="middle">100</text><text transform="translate(21.5 74.10) rotate(-90)" class="tk" text-anchor="middle">200</text><text x="137.2" y="287.4" class="lb" text-anchor="middle">Component 1</text><text transform="translate(6.2 144.4) rotate(-90)" class="lb" text-anchor="middle">Component 2</text><text x="291.50" y="272.0" class="tk" text-anchor="middle">-400</text><text x="345.50" y="272.0" class="tk" text-anchor="middle">-200</text><text x="399.50" y="272.0" class="tk" text-anchor="middle">0</text><text x="453.50" y="272.0" class="tk" text-anchor="middle">200</text><text transform="translate(281.5 215.55) rotate(-90)" class="tk" text-anchor="middle">-100</text><text transform="translate(281.5 168.40) rotate(-90)" class="tk" text-anchor="middle">0</text><text transform="translate(281.5 121.25) rotate(-90)" class="tk" text-anchor="middle">100</text><text transform="translate(281.5 74.10) rotate(-90)" class="tk" text-anchor="middle">200</text><text x="397.2" y="287.4" class="lb" text-anchor="middle">Component 1</text><text transform="translate(266.2 144.4) rotate(-90)" class="lb" text-anchor="middle">Component 2</text><text x="41.3" y="39.90" class="lg">Old Kit MIRT</text><text x="41.3" y="47.45" class="lg">New Kit MIRT</text><text x="41.3" y="55.00" class="lg">New Kit SigGen</text><text x="301.3" y="39.90" class="lg">Old Kit MIRT</text><text x="301.3" y="47.45" class="lg">New Kit MIRT</text><text x="301.3" y="55.00" class="lg">New Kit SigGen</text></g></svg></body></html>
